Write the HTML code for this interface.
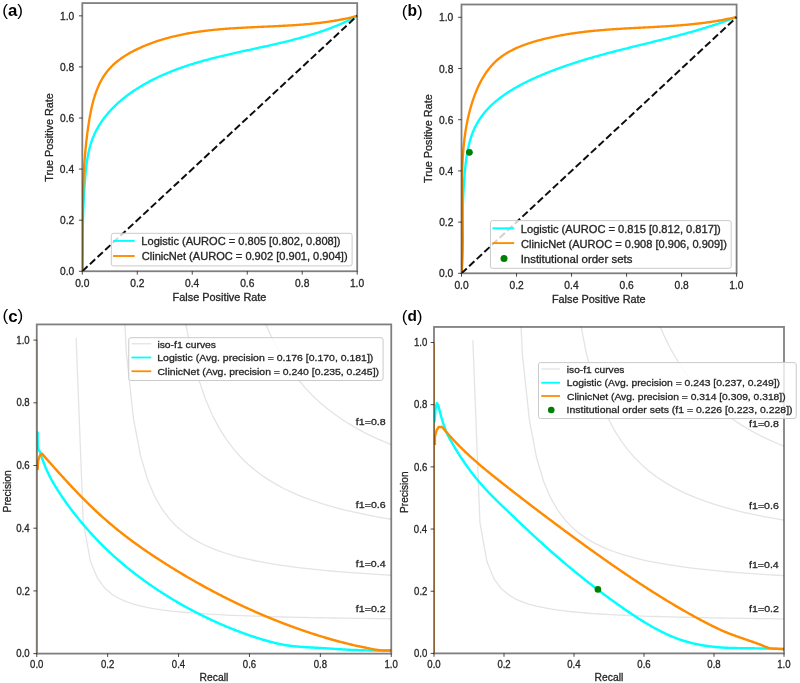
<!DOCTYPE html>
<html><head><meta charset="utf-8"><title>ROC and PR curves</title>
<style>html,body{margin:0;padding:0;background:#fff;width:800px;height:683px;overflow:hidden}
svg{display:block} text{font-family:"Liberation Sans",sans-serif}</style></head>
<body>
<svg width="800" height="683" viewBox="0 0 800 683" font-family="Liberation Sans, sans-serif"><defs><clipPath id="cA"><rect x="82.30" y="3.08" width="274.90" height="268.17"/></clipPath><clipPath id="cB"><rect x="461.50" y="4.50" width="275.10" height="268.80"/></clipPath><clipPath id="cC"><rect x="36.75" y="324.43" width="354.50" height="329.18"/></clipPath><clipPath id="cD"><rect x="434.00" y="326.95" width="350.00" height="326.44"/></clipPath><filter id="soft" x="0" y="0" width="1" height="1"><feGaussianBlur stdDeviation="0.35"/></filter></defs><rect width="800" height="683" fill="#fff"/><g filter="url(#soft)"><rect width="800" height="683" fill="#fff"/><path d="M76.11,337.78 L83.27,521.85 L90.43,561.29 L97.59,578.49 L104.76,588.11 L111.92,594.27 L119.08,598.54 L126.24,601.69 L133.41,604.09 L140.57,605.99 L147.73,607.54 L154.89,608.81 L162.05,609.88 L169.22,610.79 L176.38,611.58 L183.54,612.27 L190.70,612.87 L197.87,613.41 L205.03,613.88 L212.19,614.31 L219.35,614.70 L226.52,615.05 L233.68,615.37 L240.84,615.66 L248.00,615.93 L255.17,616.18 L262.33,616.40 L269.49,616.62 L276.65,616.81 L283.81,617.00 L290.98,617.17 L298.14,617.33 L305.30,617.48 L312.46,617.62 L319.63,617.76 L326.79,617.88 L333.95,618.00 L341.11,618.12 L348.28,618.22 L355.44,618.33 L362.60,618.42 L369.76,618.52 L376.93,618.60 L384.09,618.69 L391.25,618.77" fill="none" stroke="#e4e4e4" stroke-width="1.3" clip-path="url(#cC)"/>
<path d="M111.92,-450.56 L119.08,202.00 L126.24,351.81 L133.41,418.30 L140.57,455.85 L147.73,479.99 L154.89,496.80 L162.05,509.19 L169.22,518.70 L176.38,526.22 L183.54,532.32 L190.70,537.38 L197.87,541.62 L205.03,545.25 L212.19,548.38 L219.35,551.10 L226.52,553.50 L233.68,555.63 L240.84,557.52 L248.00,559.23 L255.17,560.76 L262.33,562.16 L269.49,563.43 L276.65,564.60 L283.81,565.67 L290.98,566.65 L298.14,567.56 L305.30,568.41 L312.46,569.20 L319.63,569.93 L326.79,570.61 L333.95,571.26 L341.11,571.86 L348.28,572.43 L355.44,572.96 L362.60,573.46 L369.76,573.94 L376.93,574.39 L384.09,574.82 L391.25,575.23" fill="none" stroke="#e4e4e4" stroke-width="1.3" clip-path="url(#cC)"/>
<path d="M147.73,-1600.66 L154.89,-288.63 L162.05,31.86 L169.22,176.58 L176.38,259.00 L183.54,312.23 L190.70,349.44 L197.87,376.92 L205.03,398.04 L212.19,414.78 L219.35,428.38 L226.52,439.64 L233.68,449.12 L240.84,457.22 L248.00,464.20 L255.17,470.30 L262.33,475.66 L269.49,480.41 L276.65,484.66 L283.81,488.47 L290.98,491.91 L298.14,495.04 L305.30,497.88 L312.46,500.49 L319.63,502.89 L326.79,505.10 L333.95,507.14 L341.11,509.04 L348.28,510.80 L355.44,512.44 L362.60,513.98 L369.76,515.42 L376.93,516.77 L384.09,518.04 L391.25,519.24" fill="none" stroke="#e4e4e4" stroke-width="1.3" clip-path="url(#cC)"/>
<path d="M183.54,-3033.89 L190.70,-934.80 L197.87,-392.34 L205.03,-143.34 L212.19,-0.37 L219.35,92.41 L226.52,157.49 L233.68,205.65 L240.84,242.74 L248.00,272.18 L255.17,296.11 L262.33,315.95 L269.49,332.67 L276.65,346.94 L283.81,359.28 L290.98,370.04 L298.14,379.51 L305.30,387.91 L312.46,395.42 L319.63,402.16 L326.79,408.25 L333.95,413.78 L341.11,418.82 L348.28,423.43 L355.44,427.67 L362.60,431.59 L369.76,435.21 L376.93,438.56 L384.09,441.69 L391.25,444.60" fill="none" stroke="#e4e4e4" stroke-width="1.3" clip-path="url(#cC)"/>
<path d="M472.86,340.20 L479.93,522.74 L487.00,561.86 L494.07,578.91 L501.14,588.46 L508.21,594.56 L515.29,598.80 L522.36,601.92 L529.43,604.30 L536.50,606.19 L543.57,607.72 L550.64,608.98 L557.71,610.04 L564.79,610.95 L571.86,611.73 L578.93,612.41 L586.00,613.01 L593.07,613.54 L600.14,614.01 L607.21,614.44 L614.29,614.82 L621.36,615.17 L628.43,615.48 L635.50,615.77 L642.57,616.04 L649.64,616.29 L656.71,616.51 L663.79,616.72 L670.86,616.92 L677.93,617.10 L685.00,617.27 L692.07,617.43 L699.14,617.58 L706.21,617.72 L713.29,617.86 L720.36,617.98 L727.43,618.10 L734.50,618.21 L741.57,618.32 L748.64,618.42 L755.71,618.51 L762.79,618.61 L769.86,618.69 L776.93,618.78 L784.00,618.86" fill="none" stroke="#e4e4e4" stroke-width="1.3" clip-path="url(#cD)"/>
<path d="M508.21,-441.60 L515.29,205.55 L522.36,354.11 L529.43,420.05 L536.50,457.29 L543.57,481.23 L550.64,497.90 L557.71,510.19 L564.79,519.61 L571.86,527.08 L578.93,533.13 L586.00,538.14 L593.07,542.35 L600.14,545.95 L607.21,549.05 L614.29,551.75 L621.36,554.13 L628.43,556.24 L635.50,558.12 L642.57,559.81 L649.64,561.33 L656.71,562.72 L663.79,563.98 L670.86,565.13 L677.93,566.19 L685.00,567.17 L692.07,568.08 L699.14,568.92 L706.21,569.70 L713.29,570.42 L720.36,571.10 L727.43,571.74 L734.50,572.34 L741.57,572.90 L748.64,573.43 L755.71,573.93 L762.79,574.40 L769.86,574.85 L776.93,575.27 L784.00,575.67" fill="none" stroke="#e4e4e4" stroke-width="1.3" clip-path="url(#cD)"/>
<path d="M543.57,-1582.17 L550.64,-281.02 L557.71,36.82 L564.79,180.33 L571.86,262.07 L578.93,314.86 L586.00,351.76 L593.07,379.01 L600.14,399.96 L607.21,416.56 L614.29,430.05 L621.36,441.22 L628.43,450.62 L635.50,458.64 L642.57,465.57 L649.64,471.62 L656.71,476.93 L663.79,481.65 L670.86,485.86 L677.93,489.64 L685.00,493.05 L692.07,496.15 L699.14,498.98 L706.21,501.56 L713.29,503.94 L720.36,506.13 L727.43,508.16 L734.50,510.04 L741.57,511.78 L748.64,513.42 L755.71,514.94 L762.79,516.37 L769.86,517.71 L776.93,518.97 L784.00,520.16" fill="none" stroke="#e4e4e4" stroke-width="1.3" clip-path="url(#cD)"/>
<path d="M578.93,-3003.50 L586.00,-921.83 L593.07,-383.86 L600.14,-136.93 L607.21,4.86 L614.29,96.87 L621.36,161.40 L628.43,209.16 L635.50,245.94 L642.57,275.14 L649.64,298.87 L656.71,318.55 L663.79,335.13 L670.86,349.29 L677.93,361.52 L685.00,372.19 L692.07,381.58 L699.14,389.92 L706.21,397.36 L713.29,404.04 L720.36,410.08 L727.43,415.56 L734.50,420.56 L741.57,425.14 L748.64,429.35 L755.71,433.23 L762.79,436.82 L769.86,440.15 L776.93,443.24 L784.00,446.13" fill="none" stroke="#e4e4e4" stroke-width="1.3" clip-path="url(#cD)"/>
<path d="M82.40,271.25 L82.40,270.15 L82.40,269.04 L82.41,267.94 L82.41,266.84 L82.41,265.75 L82.41,264.65 L82.42,263.55 L82.42,262.46 L82.42,261.37 L82.43,260.28 L82.43,259.19 L82.44,258.10 L82.44,257.01 L82.45,255.92 L82.45,254.84 L82.46,253.75 L82.46,252.67 L82.47,251.58 L82.48,250.50 L82.48,249.42 L82.49,248.34 L82.50,247.26 L82.51,246.18 L82.52,245.10 L82.53,244.02 L82.54,242.94 L82.55,241.87 L82.57,240.79 L82.58,239.71 L82.59,238.64 L82.61,237.56 L82.62,236.48 L82.64,235.41 L82.66,234.33 L82.68,233.26 L82.69,232.18 L82.71,231.11 L82.73,230.03 L82.76,228.96 L82.78,227.88 L82.80,226.81 L82.83,225.73 L82.85,224.66 L82.88,223.58 L82.90,222.50 L82.93,221.43 L82.96,220.35 L82.99,219.27 L83.02,218.20 L83.06,217.12 L83.09,216.04 L83.13,214.96 L83.16,213.88 L83.20,212.80 L83.24,211.72 L83.28,210.64 L83.32,209.56 L83.36,208.47 L83.41,207.39 L83.45,206.30 L83.50,205.22 L83.55,204.13 L83.60,203.04 L83.65,201.95 L83.70,200.86 L83.76,199.77 L83.81,198.68 L83.87,197.59 L83.93,196.49 L83.99,195.39 L84.05,194.30 L84.12,193.20 L84.18,192.10 L84.25,191.00 L84.32,189.89 L84.39,188.79 L84.46,187.68 L84.54,186.57 L84.61,185.46 L84.69,184.35 L84.77,183.24 L84.85,182.12 L84.94,181.00 L85.02,179.89 L85.11,178.76 L85.20,177.64 L85.29,176.52 L85.39,175.39 L85.48,174.27 L85.59,173.14 L85.69,172.01 L85.80,170.89 L85.92,169.76 L86.04,168.64 L86.16,167.51 L86.29,166.39 L86.43,165.26 L86.57,164.14 L86.72,163.02 L86.88,161.90 L87.04,160.79 L87.21,159.68 L87.39,158.57 L87.57,157.46 L87.77,156.36 L87.97,155.26 L88.18,154.16 L88.41,153.07 L88.64,151.99 L88.88,150.90 L89.13,149.83 L89.39,148.75 L89.67,147.69 L89.95,146.63 L90.25,145.57 L90.56,144.53 L90.88,143.48 L91.21,142.45 L91.56,141.42 L91.92,140.40 L92.29,139.39 L92.68,138.38 L93.07,137.39 L93.48,136.39 L93.91,135.41 L94.34,134.43 L94.79,133.46 L95.25,132.50 L95.72,131.55 L96.21,130.60 L96.70,129.66 L97.21,128.72 L97.73,127.80 L98.26,126.88 L98.80,125.97 L99.35,125.06 L99.91,124.16 L100.49,123.27 L101.07,122.38 L101.66,121.51 L102.27,120.64 L102.88,119.77 L103.51,118.91 L104.14,118.06 L104.78,117.22 L105.44,116.38 L106.10,115.55 L106.77,114.73 L107.45,113.91 L108.14,113.10 L108.84,112.30 L109.55,111.50 L110.27,110.71 L110.99,109.93 L111.72,109.15 L112.47,108.38 L113.21,107.62 L113.97,106.86 L114.74,106.11 L115.51,105.36 L116.29,104.62 L117.08,103.89 L117.87,103.17 L118.67,102.45 L119.48,101.74 L120.30,101.03 L121.12,100.33 L121.95,99.64 L122.78,98.95 L123.62,98.27 L124.47,97.59 L125.32,96.93 L126.18,96.26 L127.04,95.61 L127.91,94.96 L128.79,94.31 L129.67,93.68 L130.55,93.04 L131.45,92.42 L132.34,91.80 L133.24,91.19 L134.14,90.58 L135.05,89.98 L135.97,89.38 L136.88,88.79 L137.80,88.21 L138.73,87.63 L139.66,87.06 L140.59,86.49 L141.53,85.93 L142.47,85.38 L143.41,84.83 L144.35,84.29 L145.30,83.75 L146.25,83.22 L147.20,82.69 L148.16,82.17 L149.12,81.66 L150.08,81.15 L151.04,80.64 L152.01,80.15 L152.97,79.65 L153.94,79.17 L154.91,78.69 L155.89,78.21 L156.86,77.74 L157.84,77.27 L158.82,76.81 L159.80,76.35 L160.79,75.90 L161.78,75.46 L162.76,75.02 L163.75,74.58 L164.75,74.15 L165.74,73.72 L166.74,73.30 L167.74,72.88 L168.74,72.47 L169.74,72.06 L170.74,71.65 L171.75,71.25 L172.75,70.86 L173.76,70.47 L174.77,70.08 L175.79,69.70 L176.80,69.32 L177.82,68.94 L178.83,68.57 L179.85,68.20 L180.87,67.84 L181.90,67.48 L182.92,67.12 L183.95,66.77 L184.97,66.42 L186.00,66.08 L187.03,65.74 L188.06,65.40 L189.09,65.06 L190.13,64.73 L191.16,64.40 L192.20,64.08 L193.24,63.76 L194.28,63.44 L195.32,63.12 L196.36,62.81 L197.40,62.50 L198.45,62.19 L199.49,61.89 L200.54,61.59 L201.59,61.29 L202.64,61.00 L203.69,60.70 L204.74,60.41 L205.79,60.13 L206.84,59.84 L207.90,59.56 L208.95,59.28 L210.01,59.00 L211.07,58.72 L212.13,58.45 L213.18,58.18 L214.24,57.91 L215.30,57.64 L216.37,57.37 L217.43,57.11 L218.49,56.85 L219.55,56.59 L220.62,56.33 L221.68,56.07 L222.75,55.82 L223.82,55.56 L224.88,55.31 L225.95,55.06 L227.02,54.81 L228.09,54.56 L229.16,54.31 L230.23,54.07 L231.30,53.82 L232.37,53.58 L233.44,53.34 L234.51,53.10 L235.58,52.86 L236.65,52.62 L237.73,52.38 L238.80,52.14 L239.87,51.90 L240.94,51.67 L242.02,51.43 L243.09,51.20 L244.17,50.96 L245.24,50.73 L246.32,50.49 L247.39,50.26 L248.46,50.03 L249.54,49.79 L250.61,49.56 L251.69,49.33 L252.76,49.09 L253.84,48.86 L254.91,48.63 L255.99,48.39 L257.06,48.16 L258.14,47.93 L259.21,47.69 L260.29,47.46 L261.36,47.22 L262.44,46.99 L263.51,46.75 L264.58,46.52 L265.66,46.28 L266.73,46.04 L267.80,45.81 L268.87,45.57 L269.95,45.33 L271.02,45.09 L272.09,44.84 L273.16,44.60 L274.23,44.36 L275.30,44.11 L276.37,43.87 L277.44,43.62 L278.51,43.37 L279.57,43.12 L280.64,42.87 L281.71,42.62 L282.77,42.36 L283.84,42.11 L284.90,41.85 L285.97,41.59 L287.03,41.33 L288.09,41.07 L289.15,40.80 L290.22,40.53 L291.28,40.27 L292.33,39.99 L293.39,39.72 L294.45,39.45 L295.51,39.17 L296.56,38.89 L297.62,38.61 L298.67,38.32 L299.72,38.04 L300.77,37.75 L301.82,37.46 L302.87,37.16 L303.92,36.87 L304.97,36.57 L306.02,36.27 L307.06,35.96 L308.10,35.65 L309.15,35.34 L310.19,35.03 L311.23,34.71 L312.27,34.39 L313.30,34.07 L314.34,33.74 L315.37,33.41 L316.41,33.08 L317.44,32.75 L318.47,32.41 L319.50,32.06 L320.53,31.72 L321.55,31.37 L322.58,31.01 L323.60,30.66 L324.62,30.29 L325.64,29.93 L326.66,29.56 L327.68,29.19 L328.69,28.81 L329.70,28.43 L330.72,28.04 L331.73,27.66 L332.73,27.26 L333.74,26.86 L334.74,26.46 L335.75,26.06 L336.75,25.65 L337.75,25.23 L338.74,24.81 L339.74,24.39 L340.73,23.96 L341.72,23.52 L342.71,23.08 L343.70,22.64 L344.68,22.19 L345.67,21.74 L346.65,21.28 L347.63,20.82 L348.60,20.35 L349.58,19.88 L350.55,19.40 L351.52,18.91 L352.49,18.43 L353.46,17.93 L354.42,17.43 L355.38,16.92 L356.34,16.41 L357.30,15.90" fill="none" stroke="#00ffff" stroke-width="2.35" stroke-linejoin="round" clip-path="url(#cA)"/>
<path d="M82.40,271.25 L82.42,270.06 L82.43,268.87 L82.45,267.69 L82.46,266.50 L82.47,265.32 L82.49,264.13 L82.50,262.95 L82.51,261.77 L82.52,260.59 L82.53,259.41 L82.54,258.23 L82.54,257.05 L82.55,255.88 L82.56,254.70 L82.56,253.53 L82.57,252.35 L82.57,251.18 L82.58,250.01 L82.58,248.83 L82.59,247.66 L82.59,246.49 L82.59,245.32 L82.59,244.16 L82.60,242.99 L82.60,241.82 L82.60,240.65 L82.60,239.49 L82.61,238.32 L82.61,237.16 L82.61,235.99 L82.61,234.83 L82.61,233.67 L82.62,232.51 L82.62,231.35 L82.62,230.18 L82.62,229.02 L82.63,227.86 L82.63,226.70 L82.63,225.54 L82.64,224.39 L82.64,223.23 L82.65,222.07 L82.65,220.91 L82.66,219.75 L82.66,218.60 L82.67,217.44 L82.68,216.28 L82.69,215.13 L82.70,213.97 L82.71,212.82 L82.72,211.66 L82.73,210.51 L82.74,209.35 L82.76,208.20 L82.77,207.04 L82.79,205.89 L82.80,204.73 L82.82,203.58 L82.84,202.43 L82.86,201.27 L82.88,200.12 L82.90,198.96 L82.92,197.81 L82.95,196.66 L82.97,195.50 L83.00,194.35 L83.03,193.20 L83.06,192.04 L83.09,190.89 L83.13,189.73 L83.16,188.58 L83.20,187.42 L83.23,186.27 L83.27,185.12 L83.32,183.96 L83.36,182.81 L83.40,181.65 L83.45,180.49 L83.50,179.34 L83.55,178.18 L83.60,177.03 L83.66,175.87 L83.71,174.71 L83.77,173.55 L83.83,172.40 L83.89,171.24 L83.96,170.08 L84.03,168.92 L84.10,167.76 L84.17,166.60 L84.24,165.44 L84.32,164.28 L84.40,163.12 L84.48,161.96 L84.56,160.79 L84.65,159.63 L84.73,158.47 L84.83,157.30 L84.92,156.14 L85.02,154.97 L85.12,153.81 L85.22,152.64 L85.32,151.47 L85.43,150.30 L85.54,149.13 L85.65,147.96 L85.77,146.79 L85.89,145.62 L86.01,144.45 L86.14,143.28 L86.26,142.10 L86.39,140.93 L86.53,139.75 L86.67,138.58 L86.81,137.40 L86.95,136.22 L87.10,135.04 L87.25,133.86 L87.40,132.68 L87.56,131.50 L87.72,130.31 L87.89,129.13 L88.06,127.94 L88.23,126.76 L88.40,125.57 L88.58,124.38 L88.76,123.19 L88.95,122.00 L89.14,120.81 L89.34,119.62 L89.54,118.43 L89.75,117.24 L89.96,116.05 L90.17,114.86 L90.40,113.68 L90.63,112.49 L90.86,111.31 L91.11,110.13 L91.36,108.95 L91.61,107.78 L91.88,106.61 L92.15,105.44 L92.43,104.28 L92.73,103.12 L93.02,101.96 L93.33,100.81 L93.65,99.67 L93.98,98.53 L94.32,97.40 L94.67,96.27 L95.02,95.15 L95.39,94.03 L95.77,92.93 L96.17,91.83 L96.57,90.73 L96.99,89.65 L97.42,88.57 L97.86,87.51 L98.31,86.45 L98.78,85.40 L99.26,84.36 L99.75,83.33 L100.26,82.31 L100.78,81.30 L101.32,80.30 L101.87,79.31 L102.44,78.34 L103.02,77.37 L103.62,76.42 L104.24,75.48 L104.87,74.55 L105.52,73.64 L106.18,72.74 L106.86,71.85 L107.56,70.97 L108.28,70.11 L109.01,69.26 L109.76,68.43 L110.52,67.61 L111.30,66.80 L112.09,66.00 L112.90,65.22 L113.73,64.45 L114.56,63.69 L115.41,62.95 L116.28,62.21 L117.16,61.49 L118.04,60.78 L118.95,60.08 L119.86,59.40 L120.78,58.72 L121.72,58.06 L122.66,57.40 L123.62,56.76 L124.58,56.13 L125.56,55.51 L126.54,54.90 L127.53,54.30 L128.53,53.71 L129.54,53.13 L130.56,52.56 L131.58,52.00 L132.61,51.45 L133.65,50.90 L134.69,50.37 L135.74,49.85 L136.79,49.33 L137.85,48.83 L138.91,48.33 L139.98,47.84 L141.05,47.36 L142.12,46.89 L143.20,46.43 L144.28,45.97 L145.36,45.52 L146.44,45.08 L147.53,44.65 L148.62,44.22 L149.70,43.81 L150.80,43.40 L151.89,42.99 L152.98,42.60 L154.08,42.21 L155.18,41.83 L156.28,41.45 L157.38,41.08 L158.48,40.72 L159.59,40.37 L160.69,40.02 L161.80,39.68 L162.91,39.34 L164.02,39.01 L165.14,38.69 L166.25,38.38 L167.37,38.07 L168.48,37.76 L169.60,37.47 L170.72,37.18 L171.84,36.89 L172.97,36.61 L174.09,36.34 L175.22,36.07 L176.35,35.81 L177.48,35.55 L178.61,35.30 L179.74,35.05 L180.87,34.81 L182.01,34.58 L183.14,34.35 L184.28,34.12 L185.42,33.90 L186.55,33.69 L187.70,33.48 L188.84,33.27 L189.98,33.07 L191.12,32.87 L192.27,32.68 L193.41,32.50 L194.56,32.31 L195.71,32.14 L196.86,31.96 L198.01,31.79 L199.16,31.63 L200.31,31.47 L201.47,31.31 L202.62,31.15 L203.78,31.00 L204.93,30.86 L206.09,30.72 L207.25,30.58 L208.41,30.44 L209.57,30.31 L210.73,30.18 L211.89,30.06 L213.05,29.94 L214.22,29.82 L215.38,29.70 L216.54,29.59 L217.71,29.48 L218.87,29.38 L220.04,29.27 L221.21,29.17 L222.38,29.07 L223.54,28.98 L224.71,28.88 L225.88,28.79 L227.05,28.71 L228.22,28.62 L229.40,28.54 L230.57,28.45 L231.74,28.37 L232.91,28.30 L234.09,28.22 L235.26,28.15 L236.43,28.08 L237.61,28.00 L238.78,27.94 L239.96,27.87 L241.14,27.80 L242.31,27.74 L243.49,27.68 L244.66,27.61 L245.84,27.55 L247.02,27.49 L248.20,27.43 L249.37,27.38 L250.55,27.32 L251.73,27.26 L252.91,27.21 L254.09,27.15 L255.26,27.10 L256.44,27.05 L257.62,26.99 L258.80,26.94 L259.98,26.89 L261.16,26.84 L262.34,26.79 L263.52,26.73 L264.70,26.68 L265.87,26.63 L267.05,26.58 L268.23,26.52 L269.41,26.47 L270.59,26.42 L271.77,26.36 L272.94,26.31 L274.12,26.26 L275.30,26.20 L276.48,26.14 L277.66,26.09 L278.83,26.03 L280.01,25.97 L281.19,25.91 L282.36,25.85 L283.54,25.79 L284.71,25.72 L285.89,25.66 L287.06,25.59 L288.24,25.52 L289.41,25.45 L290.59,25.38 L291.76,25.31 L292.93,25.23 L294.11,25.16 L295.28,25.08 L296.45,25.00 L297.62,24.92 L298.79,24.83 L299.96,24.74 L301.13,24.66 L302.30,24.56 L303.46,24.47 L304.63,24.37 L305.80,24.27 L306.96,24.17 L308.13,24.07 L309.29,23.96 L310.46,23.85 L311.62,23.73 L312.78,23.62 L313.94,23.50 L315.10,23.37 L316.26,23.25 L317.42,23.12 L318.58,22.99 L319.74,22.85 L320.89,22.71 L322.05,22.57 L323.20,22.42 L324.35,22.27 L325.51,22.11 L326.66,21.95 L327.81,21.79 L328.96,21.62 L330.11,21.45 L331.25,21.27 L332.40,21.09 L333.54,20.91 L334.69,20.72 L335.83,20.53 L336.97,20.33 L338.11,20.13 L339.25,19.92 L340.39,19.71 L341.52,19.49 L342.66,19.27 L343.79,19.04 L344.93,18.81 L346.06,18.57 L347.19,18.33 L348.32,18.08 L349.44,17.82 L350.57,17.56 L351.69,17.30 L352.82,17.03 L353.94,16.75 L355.06,16.47 L356.18,16.18 L357.29,15.89" fill="none" stroke="#ff8c00" stroke-width="2.35" stroke-linejoin="round" clip-path="url(#cA)"/>
<line x1="82.30" y1="271.25" x2="357.20" y2="15.85" stroke="#111" stroke-width="2" stroke-dasharray="7.2 3.2" clip-path="url(#cA)"/>
<path d="M461.60,273.30 L461.62,272.18 L461.64,271.07 L461.66,269.96 L461.67,268.85 L461.69,267.75 L461.71,266.64 L461.73,265.54 L461.74,264.43 L461.76,263.33 L461.78,262.23 L461.79,261.13 L461.81,260.04 L461.82,258.94 L461.84,257.84 L461.85,256.75 L461.86,255.66 L461.88,254.56 L461.89,253.47 L461.91,252.38 L461.92,251.29 L461.93,250.20 L461.95,249.12 L461.96,248.03 L461.97,246.94 L461.99,245.86 L462.00,244.77 L462.02,243.69 L462.03,242.60 L462.05,241.52 L462.06,240.44 L462.08,239.35 L462.09,238.27 L462.11,237.19 L462.12,236.11 L462.14,235.02 L462.16,233.94 L462.18,232.86 L462.19,231.78 L462.21,230.70 L462.23,229.62 L462.25,228.54 L462.27,227.45 L462.29,226.37 L462.31,225.29 L462.34,224.21 L462.36,223.12 L462.38,222.04 L462.41,220.96 L462.44,219.87 L462.46,218.79 L462.49,217.70 L462.52,216.62 L462.55,215.53 L462.58,214.44 L462.61,213.36 L462.64,212.27 L462.68,211.18 L462.71,210.09 L462.75,209.00 L462.79,207.91 L462.82,206.81 L462.86,205.72 L462.91,204.62 L462.95,203.53 L462.99,202.43 L463.04,201.33 L463.08,200.23 L463.13,199.13 L463.18,198.03 L463.23,196.92 L463.29,195.82 L463.34,194.71 L463.40,193.60 L463.45,192.49 L463.51,191.38 L463.57,190.27 L463.64,189.15 L463.70,188.04 L463.77,186.92 L463.83,185.80 L463.90,184.68 L463.98,183.55 L464.05,182.42 L464.13,181.30 L464.20,180.17 L464.28,179.03 L464.37,177.90 L464.45,176.76 L464.54,175.62 L464.63,174.49 L464.72,173.35 L464.82,172.20 L464.92,171.06 L465.02,169.92 L465.13,168.78 L465.24,167.64 L465.36,166.50 L465.48,165.36 L465.61,164.22 L465.75,163.08 L465.88,161.95 L466.03,160.81 L466.18,159.68 L466.34,158.55 L466.50,157.42 L466.67,156.30 L466.85,155.17 L467.03,154.06 L467.23,152.94 L467.43,151.83 L467.64,150.72 L467.85,149.62 L468.08,148.52 L468.31,147.42 L468.56,146.33 L468.81,145.25 L469.07,144.17 L469.34,143.09 L469.63,142.02 L469.92,140.96 L470.22,139.91 L470.53,138.86 L470.86,137.81 L471.19,136.78 L471.54,135.75 L471.90,134.73 L472.27,133.72 L472.65,132.71 L473.05,131.71 L473.46,130.73 L473.88,129.75 L474.31,128.78 L474.76,127.81 L475.22,126.86 L475.70,125.92 L476.19,124.99 L476.69,124.06 L477.20,123.15 L477.73,122.24 L478.27,121.35 L478.82,120.46 L479.39,119.58 L479.96,118.71 L480.55,117.85 L481.15,117.00 L481.77,116.15 L482.39,115.32 L483.03,114.49 L483.68,113.67 L484.33,112.86 L485.00,112.06 L485.68,111.27 L486.37,110.48 L487.08,109.70 L487.79,108.93 L488.51,108.17 L489.24,107.42 L489.98,106.67 L490.73,105.93 L491.49,105.20 L492.26,104.48 L493.04,103.76 L493.83,103.05 L494.62,102.35 L495.43,101.66 L496.24,100.97 L497.06,100.29 L497.89,99.62 L498.73,98.95 L499.58,98.29 L500.43,97.64 L501.29,96.99 L502.16,96.35 L503.03,95.72 L503.92,95.09 L504.80,94.47 L505.70,93.86 L506.60,93.25 L507.51,92.65 L508.42,92.05 L509.34,91.46 L510.27,90.88 L511.20,90.30 L512.14,89.73 L513.08,89.16 L514.03,88.60 L514.98,88.05 L515.94,87.50 L516.90,86.95 L517.87,86.41 L518.84,85.88 L519.82,85.35 L520.80,84.83 L521.78,84.31 L522.77,83.79 L523.76,83.29 L524.75,82.78 L525.75,82.28 L526.75,81.79 L527.75,81.30 L528.76,80.81 L529.77,80.33 L530.78,79.86 L531.79,79.38 L532.80,78.91 L533.82,78.45 L534.84,77.99 L535.86,77.53 L536.88,77.08 L537.90,76.63 L538.93,76.19 L539.95,75.75 L540.98,75.31 L542.00,74.88 L543.03,74.45 L544.06,74.02 L545.09,73.60 L546.12,73.18 L547.15,72.76 L548.18,72.35 L549.21,71.94 L550.24,71.53 L551.27,71.13 L552.31,70.73 L553.34,70.33 L554.37,69.94 L555.41,69.55 L556.45,69.16 L557.48,68.78 L558.52,68.40 L559.56,68.02 L560.60,67.64 L561.64,67.27 L562.68,66.90 L563.72,66.53 L564.76,66.17 L565.80,65.81 L566.84,65.45 L567.88,65.09 L568.93,64.74 L569.97,64.39 L571.02,64.04 L572.06,63.70 L573.11,63.35 L574.15,63.01 L575.20,62.67 L576.25,62.34 L577.29,62.00 L578.34,61.67 L579.39,61.34 L580.44,61.02 L581.49,60.69 L582.54,60.37 L583.59,60.05 L584.64,59.73 L585.69,59.41 L586.74,59.10 L587.80,58.79 L588.85,58.48 L589.90,58.17 L590.96,57.86 L592.01,57.56 L593.06,57.25 L594.12,56.95 L595.17,56.65 L596.23,56.36 L597.28,56.06 L598.34,55.76 L599.40,55.47 L600.45,55.18 L601.51,54.89 L602.57,54.60 L603.63,54.31 L604.68,54.03 L605.74,53.74 L606.80,53.46 L607.86,53.18 L608.92,52.90 L609.98,52.62 L611.04,52.34 L612.10,52.06 L613.16,51.79 L614.22,51.51 L615.28,51.24 L616.34,50.97 L617.40,50.69 L618.46,50.42 L619.52,50.15 L620.58,49.88 L621.64,49.61 L622.71,49.35 L623.77,49.08 L624.83,48.81 L625.89,48.55 L626.95,48.28 L628.02,48.02 L629.08,47.75 L630.14,47.49 L631.20,47.23 L632.27,46.96 L633.33,46.70 L634.39,46.44 L635.46,46.18 L636.52,45.92 L637.58,45.66 L638.64,45.40 L639.71,45.13 L640.77,44.87 L641.83,44.61 L642.90,44.35 L643.96,44.09 L645.02,43.83 L646.09,43.57 L647.15,43.31 L648.21,43.05 L649.28,42.79 L650.34,42.53 L651.40,42.27 L652.47,42.01 L653.53,41.75 L654.59,41.48 L655.65,41.22 L656.72,40.96 L657.78,40.69 L658.84,40.43 L659.90,40.17 L660.97,39.90 L662.03,39.64 L663.09,39.37 L664.15,39.10 L665.21,38.84 L666.28,38.57 L667.34,38.30 L668.40,38.03 L669.46,37.76 L670.52,37.49 L671.58,37.21 L672.64,36.94 L673.70,36.67 L674.76,36.39 L675.82,36.12 L676.88,35.84 L677.94,35.56 L679.00,35.28 L680.06,35.00 L681.11,34.72 L682.17,34.43 L683.23,34.15 L684.29,33.86 L685.34,33.57 L686.40,33.28 L687.46,32.99 L688.51,32.70 L689.57,32.41 L690.62,32.11 L691.68,31.81 L692.73,31.52 L693.79,31.22 L694.84,30.91 L695.90,30.61 L696.95,30.30 L698.00,30.00 L699.06,29.69 L700.11,29.38 L701.16,29.06 L702.21,28.75 L703.26,28.43 L704.31,28.11 L705.36,27.79 L706.41,27.47 L707.46,27.14 L708.51,26.81 L709.55,26.48 L710.60,26.15 L711.65,25.82 L712.69,25.48 L713.74,25.14 L714.79,24.80 L715.83,24.45 L716.87,24.11 L717.92,23.76 L718.96,23.41 L720.00,23.05 L721.05,22.69 L722.09,22.33 L723.13,21.97 L724.17,21.61 L725.21,21.24 L726.25,20.87 L727.28,20.49 L728.32,20.12 L729.36,19.74 L730.40,19.35 L731.43,18.97 L732.47,18.58 L733.50,18.19 L734.53,17.79 L735.57,17.39 L736.60,16.99" fill="none" stroke="#00ffff" stroke-width="2.35" stroke-linejoin="round" clip-path="url(#cB)"/>
<path d="M461.59,273.30 L461.69,272.15 L461.78,271.01 L461.86,269.86 L461.94,268.71 L462.02,267.56 L462.09,266.41 L462.16,265.26 L462.22,264.11 L462.28,262.95 L462.34,261.80 L462.39,260.64 L462.44,259.49 L462.48,258.33 L462.52,257.17 L462.56,256.01 L462.60,254.85 L462.63,253.69 L462.66,252.53 L462.69,251.36 L462.71,250.20 L462.73,249.03 L462.75,247.87 L462.76,246.70 L462.78,245.53 L462.79,244.37 L462.79,243.20 L462.80,242.03 L462.80,240.86 L462.80,239.69 L462.80,238.52 L462.80,237.34 L462.80,236.17 L462.79,235.00 L462.78,233.82 L462.77,232.65 L462.76,231.47 L462.75,230.30 L462.74,229.12 L462.72,227.95 L462.70,226.77 L462.69,225.59 L462.67,224.41 L462.65,223.23 L462.63,222.05 L462.61,220.88 L462.59,219.70 L462.57,218.51 L462.54,217.33 L462.52,216.15 L462.50,214.97 L462.48,213.79 L462.45,212.61 L462.43,211.43 L462.41,210.24 L462.38,209.06 L462.36,207.88 L462.34,206.69 L462.31,205.51 L462.29,204.33 L462.27,203.14 L462.25,201.96 L462.23,200.77 L462.21,199.59 L462.20,198.41 L462.18,197.22 L462.16,196.04 L462.15,194.85 L462.14,193.67 L462.12,192.48 L462.11,191.30 L462.10,190.11 L462.10,188.93 L462.09,187.74 L462.09,186.56 L462.09,185.37 L462.09,184.19 L462.09,183.01 L462.09,181.82 L462.10,180.64 L462.11,179.45 L462.12,178.27 L462.13,177.09 L462.15,175.90 L462.17,174.72 L462.19,173.54 L462.21,172.36 L462.24,171.17 L462.27,169.99 L462.30,168.81 L462.34,167.63 L462.38,166.45 L462.42,165.27 L462.47,164.09 L462.52,162.91 L462.58,161.73 L462.63,160.55 L462.69,159.37 L462.76,158.19 L462.83,157.02 L462.90,155.84 L462.98,154.66 L463.06,153.49 L463.15,152.31 L463.24,151.14 L463.33,149.96 L463.43,148.79 L463.53,147.61 L463.64,146.44 L463.76,145.27 L463.88,144.10 L464.00,142.93 L464.13,141.76 L464.26,140.59 L464.40,139.42 L464.54,138.25 L464.69,137.09 L464.85,135.92 L465.01,134.76 L465.18,133.59 L465.35,132.43 L465.53,131.27 L465.71,130.10 L465.90,128.94 L466.10,127.78 L466.30,126.62 L466.51,125.47 L466.72,124.31 L466.95,123.15 L467.17,122.00 L467.41,120.84 L467.65,119.69 L467.90,118.54 L468.15,117.39 L468.42,116.24 L468.69,115.09 L468.96,113.94 L469.25,112.79 L469.54,111.65 L469.84,110.50 L470.14,109.36 L470.45,108.22 L470.78,107.08 L471.11,105.94 L471.44,104.80 L471.79,103.66 L472.14,102.53 L472.50,101.40 L472.87,100.27 L473.25,99.15 L473.64,98.03 L474.04,96.91 L474.44,95.80 L474.86,94.69 L475.28,93.58 L475.71,92.48 L476.16,91.39 L476.61,90.30 L477.07,89.22 L477.54,88.15 L478.03,87.08 L478.52,86.01 L479.02,84.96 L479.53,83.91 L480.06,82.87 L480.59,81.84 L481.14,80.81 L481.70,79.80 L482.26,78.79 L482.84,77.79 L483.43,76.81 L484.04,75.83 L484.65,74.86 L485.28,73.90 L485.91,72.96 L486.56,72.02 L487.23,71.09 L487.90,70.18 L488.59,69.28 L489.29,68.39 L490.00,67.51 L490.73,66.65 L491.46,65.80 L492.22,64.96 L492.98,64.14 L493.76,63.33 L494.55,62.53 L495.36,61.75 L496.18,60.98 L497.01,60.23 L497.86,59.49 L498.72,58.77 L499.59,58.07 L500.48,57.38 L501.38,56.70 L502.30,56.04 L503.23,55.39 L504.17,54.76 L505.12,54.14 L506.08,53.53 L507.05,52.94 L508.03,52.36 L509.03,51.80 L510.03,51.24 L511.05,50.70 L512.07,50.17 L513.10,49.65 L514.14,49.14 L515.19,48.65 L516.25,48.16 L517.31,47.69 L518.39,47.23 L519.46,46.77 L520.55,46.33 L521.64,45.90 L522.74,45.47 L523.84,45.06 L524.95,44.66 L526.07,44.26 L527.19,43.87 L528.31,43.49 L529.44,43.12 L530.57,42.76 L531.70,42.40 L532.84,42.05 L533.98,41.71 L535.12,41.38 L536.26,41.05 L537.41,40.73 L538.56,40.41 L539.70,40.10 L540.85,39.80 L542.00,39.50 L543.15,39.21 L544.30,38.92 L545.45,38.64 L546.60,38.36 L547.76,38.09 L548.91,37.82 L550.06,37.56 L551.22,37.31 L552.37,37.05 L553.53,36.81 L554.68,36.57 L555.84,36.33 L557.00,36.10 L558.15,35.87 L559.31,35.65 L560.47,35.43 L561.63,35.22 L562.79,35.01 L563.95,34.80 L565.11,34.60 L566.27,34.40 L567.43,34.21 L568.59,34.02 L569.75,33.84 L570.91,33.66 L572.08,33.48 L573.24,33.31 L574.40,33.14 L575.57,32.98 L576.73,32.82 L577.90,32.66 L579.06,32.50 L580.23,32.35 L581.39,32.21 L582.56,32.06 L583.73,31.92 L584.89,31.78 L586.06,31.65 L587.23,31.52 L588.40,31.39 L589.57,31.26 L590.73,31.14 L591.90,31.02 L593.07,30.90 L594.24,30.79 L595.41,30.68 L596.58,30.57 L597.75,30.46 L598.92,30.35 L600.09,30.25 L601.26,30.15 L602.44,30.05 L603.61,29.96 L604.78,29.87 L605.95,29.77 L607.12,29.69 L608.29,29.60 L609.47,29.51 L610.64,29.43 L611.81,29.35 L612.99,29.27 L614.16,29.19 L615.33,29.11 L616.50,29.03 L617.68,28.96 L618.85,28.89 L620.03,28.81 L621.20,28.74 L622.37,28.67 L623.55,28.60 L624.72,28.54 L625.90,28.47 L627.07,28.40 L628.24,28.34 L629.42,28.28 L630.59,28.21 L631.77,28.15 L632.94,28.09 L634.12,28.03 L635.29,27.96 L636.46,27.90 L637.64,27.84 L638.81,27.78 L639.99,27.72 L641.16,27.66 L642.34,27.60 L643.51,27.54 L644.68,27.48 L645.86,27.42 L647.03,27.36 L648.21,27.30 L649.38,27.24 L650.55,27.18 L651.73,27.11 L652.90,27.05 L654.07,26.99 L655.25,26.92 L656.42,26.86 L657.59,26.79 L658.77,26.73 L659.94,26.66 L661.11,26.59 L662.28,26.52 L663.46,26.45 L664.63,26.38 L665.80,26.31 L666.97,26.24 L668.14,26.16 L669.31,26.08 L670.49,26.01 L671.66,25.93 L672.83,25.84 L674.00,25.76 L675.17,25.68 L676.34,25.59 L677.51,25.50 L678.67,25.41 L679.84,25.32 L681.01,25.22 L682.18,25.13 L683.35,25.03 L684.52,24.93 L685.68,24.82 L686.85,24.72 L688.02,24.61 L689.18,24.50 L690.35,24.38 L691.51,24.27 L692.68,24.15 L693.84,24.03 L695.01,23.90 L696.17,23.78 L697.34,23.65 L698.50,23.51 L699.66,23.38 L700.82,23.24 L701.99,23.09 L703.15,22.95 L704.31,22.80 L705.47,22.64 L706.63,22.49 L707.79,22.33 L708.95,22.17 L710.11,22.00 L711.26,21.83 L712.42,21.65 L713.58,21.47 L714.73,21.29 L715.89,21.10 L717.05,20.91 L718.20,20.72 L719.36,20.52 L720.51,20.32 L721.66,20.11 L722.81,19.90 L723.97,19.68 L725.12,19.46 L726.27,19.24 L727.42,19.01 L728.57,18.77 L729.72,18.53 L730.87,18.29 L732.01,18.04 L733.16,17.78 L734.31,17.52 L735.45,17.26 L736.60,16.99" fill="none" stroke="#ff8c00" stroke-width="2.35" stroke-linejoin="round" clip-path="url(#cB)"/>
<line x1="461.50" y1="273.30" x2="736.60" y2="17.30" stroke="#111" stroke-width="2" stroke-dasharray="7.2 3.2" clip-path="url(#cB)"/>
<line x1="36.85" y1="340.10" x2="36.85" y2="653.60" stroke="#ff8c00" stroke-opacity="0.6" stroke-width="1.8" clip-path="url(#cC)"/>
<path d="M37.60,431.60 L37.60,440.00 L37.90,447.50 L38.80,450.20 L40.00,452.00 L41.30,455.97 L42.18,458.56 L43.05,461.02 L43.93,463.36 L44.81,465.60 L45.69,467.72 L46.56,469.76 L47.44,471.70 L48.32,473.56 L49.19,475.34 L50.07,477.06 L50.95,478.71 L51.82,480.31 L52.70,481.86 L53.58,483.37 L54.46,484.85 L55.33,486.30 L56.21,487.74 L57.09,489.15 L57.96,490.54 L58.84,491.91 L59.72,493.26 L60.60,494.60 L61.47,495.91 L62.35,497.21 L63.23,498.50 L64.10,499.77 L64.98,501.02 L65.86,502.26 L66.73,503.48 L67.61,504.69 L68.49,505.89 L69.37,507.07 L70.24,508.25 L71.12,509.41 L72.00,510.56 L72.87,511.70 L73.75,512.83 L74.63,513.95 L75.51,515.06 L76.38,516.16 L77.26,517.26 L78.14,518.34 L79.01,519.42 L79.89,520.49 L80.77,521.55 L81.65,522.60 L82.52,523.65 L83.40,524.68 L84.28,525.71 L85.15,526.73 L86.03,527.74 L86.91,528.75 L87.78,529.74 L88.66,530.73 L89.54,531.71 L90.42,532.69 L91.29,533.65 L92.17,534.61 L93.05,535.56 L93.92,536.51 L94.80,537.45 L95.68,538.37 L96.56,539.30 L97.43,540.21 L98.31,541.12 L99.19,542.02 L100.06,542.92 L100.94,543.80 L101.82,544.69 L102.69,545.56 L103.57,546.43 L104.45,547.29 L105.33,548.14 L106.20,548.99 L107.08,549.84 L107.96,550.67 L108.83,551.50 L109.71,552.32 L110.59,553.14 L111.47,553.95 L112.34,554.76 L113.22,555.56 L114.10,556.35 L114.97,557.14 L115.85,557.92 L116.73,558.70 L117.60,559.47 L118.48,560.24 L119.36,561.00 L120.24,561.76 L121.11,562.51 L121.99,563.25 L122.87,563.99 L123.74,564.73 L124.62,565.46 L125.50,566.18 L126.38,566.90 L127.25,567.62 L128.13,568.33 L129.01,569.03 L129.88,569.73 L130.76,570.43 L131.64,571.12 L132.52,571.81 L133.39,572.50 L134.27,573.18 L135.15,573.85 L136.02,574.52 L136.90,575.19 L137.78,575.85 L138.65,576.51 L139.53,577.17 L140.41,577.82 L141.29,578.47 L142.16,579.11 L143.04,579.75 L143.92,580.39 L144.79,581.02 L145.67,581.65 L146.55,582.28 L147.43,582.90 L148.30,583.52 L149.18,584.14 L150.06,584.75 L150.93,585.36 L151.81,585.96 L152.69,586.57 L153.56,587.16 L154.44,587.76 L155.32,588.35 L156.20,588.94 L157.07,589.52 L157.95,590.11 L158.83,590.68 L159.70,591.26 L160.58,591.83 L161.46,592.40 L162.34,592.96 L163.21,593.53 L164.09,594.08 L164.97,594.64 L165.84,595.19 L166.72,595.74 L167.60,596.29 L168.47,596.83 L169.35,597.37 L170.23,597.91 L171.11,598.44 L171.98,598.97 L172.86,599.50 L173.74,600.02 L174.61,600.54 L175.49,601.06 L176.37,601.58 L177.25,602.09 L178.12,602.60 L179.00,603.10 L179.88,603.61 L180.75,604.11 L181.63,604.61 L182.51,605.10 L183.38,605.59 L184.26,606.08 L185.14,606.57 L186.02,607.05 L186.89,607.53 L187.77,608.01 L188.65,608.48 L189.52,608.96 L190.40,609.43 L191.28,609.89 L192.16,610.36 L193.03,610.82 L193.91,611.28 L194.79,611.74 L195.66,612.19 L196.54,612.64 L197.42,613.09 L198.30,613.54 L199.17,613.98 L200.05,614.42 L200.93,614.86 L201.80,615.30 L202.68,615.73 L203.56,616.16 L204.43,616.59 L205.31,617.02 L206.19,617.44 L207.07,617.86 L207.94,618.28 L208.82,618.70 L209.70,619.11 L210.57,619.52 L211.45,619.93 L212.33,620.34 L213.21,620.75 L214.08,621.15 L214.96,621.55 L215.84,621.95 L216.71,622.34 L217.59,622.73 L218.47,623.13 L219.34,623.51 L220.22,623.90 L221.10,624.28 L221.98,624.66 L222.85,625.04 L223.73,625.42 L224.61,625.79 L225.48,626.16 L226.36,626.53 L227.24,626.90 L228.12,627.26 L228.99,627.62 L229.87,627.98 L230.75,628.34 L231.62,628.69 L232.50,629.05 L233.38,629.39 L234.25,629.74 L235.13,630.09 L236.01,630.43 L236.89,630.77 L237.76,631.10 L238.64,631.44 L239.52,631.77 L240.39,632.10 L241.27,632.42 L242.15,632.75 L243.03,633.07 L243.90,633.39 L244.78,633.70 L245.66,634.02 L246.53,634.33 L247.41,634.63 L248.29,634.94 L249.17,635.24 L250.04,635.54 L250.92,635.84 L251.80,636.14 L252.67,636.43 L253.55,636.72 L254.43,637.01 L255.30,637.29 L256.18,637.57 L257.06,637.85 L257.94,638.13 L258.81,638.40 L259.69,638.68 L260.57,638.94 L261.44,639.21 L262.32,639.47 L263.20,639.73 L264.08,639.99 L264.95,640.25 L265.83,640.50 L266.71,640.75 L267.58,640.99 L268.46,641.24 L269.34,641.48 L270.21,641.71 L271.09,641.94 L271.97,642.17 L272.85,642.39 L273.72,642.61 L274.60,642.83 L275.48,643.04 L276.35,643.25 L277.23,643.45 L278.11,643.64 L278.99,643.84 L279.86,644.02 L280.74,644.20 L281.62,644.38 L282.49,644.55 L283.37,644.71 L284.25,644.87 L285.12,645.03 L286.00,645.17 L286.88,645.31 L287.76,645.45 L288.63,645.58 L289.51,645.70 L290.39,645.81 L291.26,645.93 L292.14,646.03 L293.02,646.13 L293.90,646.23 L294.77,646.32 L295.65,646.41 L296.53,646.49 L297.40,646.57 L298.28,646.65 L299.16,646.72 L300.03,646.79 L300.91,646.85 L301.79,646.91 L302.67,646.98 L303.54,647.03 L304.42,647.09 L305.30,647.14 L306.17,647.19 L307.05,647.25 L307.93,647.29 L308.81,647.34 L309.68,647.39 L310.56,647.44 L311.44,647.48 L312.31,647.53 L313.19,647.58 L314.07,647.62 L314.95,647.67 L315.82,647.72 L316.70,647.76 L317.58,647.81 L318.45,647.86 L319.33,647.91 L320.21,647.96 L321.08,648.01 L321.96,648.06 L322.84,648.11 L323.72,648.17 L324.59,648.22 L325.47,648.28 L326.35,648.33 L327.22,648.39 L328.10,648.45 L328.98,648.51 L329.86,648.57 L330.73,648.63 L331.61,648.69 L332.49,648.76 L333.36,648.82 L334.24,648.88 L335.12,648.93 L335.99,648.99 L336.87,649.05 L337.75,649.11 L338.63,649.16 L339.50,649.22 L340.38,649.27 L341.26,649.33 L342.13,649.38 L343.01,649.43 L343.89,649.48 L344.77,649.54 L345.64,649.58 L346.52,649.63 L347.40,649.68 L348.27,649.72 L349.15,649.77 L350.03,649.81 L350.90,649.85 L351.78,649.88 L352.66,649.92 L353.54,649.95 L354.41,649.98 L355.29,650.01 L356.17,650.04 L357.04,650.07 L357.92,650.10 L358.80,650.13 L359.68,650.16 L360.55,650.19 L361.43,650.22 L362.31,650.25 L363.18,650.28 L364.06,650.31 L364.94,650.33 L365.82,650.36 L366.69,650.38 L367.57,650.40 L368.45,650.42 L369.32,650.44 L370.20,650.46 L371.08,650.47 L371.95,650.48 L372.83,650.49 L373.71,650.50 L374.59,650.50 L375.46,650.50 L376.34,650.50 L377.22,650.50 L378.09,650.50 L378.97,650.50 L379.85,650.50 L380.73,650.50 L381.60,650.50 L382.48,650.50 L383.36,650.50 L384.23,650.50 L385.11,650.50 L385.99,650.50 L386.86,650.50 L387.74,650.50 L388.62,650.50 L389.50,650.50 L390.37,650.50 L391.25,650.50" fill="none" stroke="#00ffff" stroke-width="2.45" stroke-linejoin="round" clip-path="url(#cC)"/>
<path d="M37.60,470.00 L38.00,461.30 L39.70,455.80 L41.90,453.63 L42.78,454.62 L43.65,455.62 L44.53,456.61 L45.40,457.61 L46.28,458.60 L47.15,459.59 L48.03,460.59 L48.90,461.57 L49.78,462.56 L50.66,463.55 L51.53,464.53 L52.41,465.52 L53.28,466.50 L54.16,467.48 L55.03,468.46 L55.91,469.44 L56.78,470.41 L57.66,471.38 L58.54,472.36 L59.41,473.32 L60.29,474.29 L61.16,475.26 L62.04,476.22 L62.91,477.18 L63.79,478.14 L64.66,479.09 L65.54,480.04 L66.42,480.99 L67.29,481.94 L68.17,482.88 L69.04,483.83 L69.92,484.76 L70.79,485.70 L71.67,486.63 L72.54,487.56 L73.42,488.49 L74.30,489.41 L75.17,490.33 L76.05,491.25 L76.92,492.16 L77.80,493.07 L78.67,493.98 L79.55,494.88 L80.42,495.78 L81.30,496.67 L82.18,497.56 L83.05,498.45 L83.93,499.33 L84.80,500.21 L85.68,501.09 L86.55,501.96 L87.43,502.82 L88.30,503.68 L89.18,504.54 L90.06,505.40 L90.93,506.24 L91.81,507.09 L92.68,507.93 L93.56,508.76 L94.43,509.59 L95.31,510.42 L96.18,511.24 L97.06,512.05 L97.94,512.86 L98.81,513.67 L99.69,514.47 L100.56,515.26 L101.44,516.05 L102.31,516.84 L103.19,517.62 L104.07,518.40 L104.94,519.17 L105.82,519.94 L106.69,520.70 L107.57,521.46 L108.44,522.21 L109.32,522.96 L110.19,523.70 L111.07,524.44 L111.95,525.18 L112.82,525.91 L113.70,526.64 L114.57,527.36 L115.45,528.08 L116.32,528.80 L117.20,529.51 L118.07,530.21 L118.95,530.92 L119.83,531.62 L120.70,532.31 L121.58,533.00 L122.45,533.69 L123.33,534.37 L124.20,535.05 L125.08,535.73 L125.95,536.40 L126.83,537.07 L127.71,537.74 L128.58,538.40 L129.46,539.06 L130.33,539.72 L131.21,540.37 L132.08,541.02 L132.96,541.66 L133.83,542.30 L134.71,542.94 L135.59,543.58 L136.46,544.21 L137.34,544.84 L138.21,545.47 L139.09,546.09 L139.96,546.71 L140.84,547.33 L141.71,547.94 L142.59,548.56 L143.47,549.17 L144.34,549.77 L145.22,550.38 L146.09,550.98 L146.97,551.58 L147.84,552.17 L148.72,552.77 L149.59,553.36 L150.47,553.95 L151.35,554.53 L152.22,555.12 L153.10,555.70 L153.97,556.28 L154.85,556.86 L155.72,557.43 L156.60,558.00 L157.47,558.57 L158.35,559.14 L159.23,559.71 L160.10,560.28 L160.98,560.84 L161.85,561.40 L162.73,561.96 L163.60,562.52 L164.48,563.07 L165.35,563.63 L166.23,564.18 L167.11,564.73 L167.98,565.28 L168.86,565.83 L169.73,566.37 L170.61,566.92 L171.48,567.46 L172.36,568.00 L173.23,568.54 L174.11,569.08 L174.99,569.61 L175.86,570.15 L176.74,570.68 L177.61,571.21 L178.49,571.74 L179.36,572.27 L180.24,572.79 L181.11,573.32 L181.99,573.84 L182.87,574.36 L183.74,574.88 L184.62,575.40 L185.49,575.91 L186.37,576.43 L187.24,576.94 L188.12,577.45 L188.99,577.96 L189.87,578.47 L190.75,578.98 L191.62,579.48 L192.50,579.98 L193.37,580.48 L194.25,580.98 L195.12,581.48 L196.00,581.98 L196.87,582.47 L197.75,582.96 L198.63,583.46 L199.50,583.94 L200.38,584.43 L201.25,584.92 L202.13,585.40 L203.00,585.89 L203.88,586.37 L204.75,586.85 L205.63,587.33 L206.51,587.80 L207.38,588.28 L208.26,588.75 L209.13,589.22 L210.01,589.69 L210.88,590.16 L211.76,590.63 L212.63,591.09 L213.51,591.55 L214.39,592.02 L215.26,592.48 L216.14,592.93 L217.01,593.39 L217.89,593.85 L218.76,594.30 L219.64,594.75 L220.52,595.20 L221.39,595.65 L222.27,596.10 L223.14,596.54 L224.02,596.99 L224.89,597.43 L225.77,597.87 L226.64,598.31 L227.52,598.75 L228.40,599.18 L229.27,599.62 L230.15,600.05 L231.02,600.48 L231.90,600.91 L232.77,601.34 L233.65,601.76 L234.52,602.19 L235.40,602.61 L236.28,603.03 L237.15,603.45 L238.03,603.87 L238.90,604.29 L239.78,604.70 L240.65,605.11 L241.53,605.53 L242.40,605.94 L243.28,606.35 L244.16,606.75 L245.03,607.16 L245.91,607.56 L246.78,607.96 L247.66,608.36 L248.53,608.76 L249.41,609.16 L250.28,609.56 L251.16,609.95 L252.04,610.34 L252.91,610.73 L253.79,611.12 L254.66,611.51 L255.54,611.90 L256.41,612.28 L257.29,612.66 L258.16,613.05 L259.04,613.43 L259.92,613.80 L260.79,614.18 L261.67,614.56 L262.54,614.93 L263.42,615.30 L264.29,615.67 L265.17,616.04 L266.04,616.41 L266.92,616.77 L267.80,617.14 L268.67,617.50 L269.55,617.86 L270.42,618.22 L271.30,618.58 L272.17,618.94 L273.05,619.29 L273.92,619.64 L274.80,620.00 L275.68,620.35 L276.55,620.69 L277.43,621.04 L278.30,621.39 L279.18,621.73 L280.05,622.07 L280.93,622.41 L281.80,622.75 L282.68,623.09 L283.56,623.43 L284.43,623.76 L285.31,624.09 L286.18,624.42 L287.06,624.75 L287.93,625.08 L288.81,625.41 L289.68,625.73 L290.56,626.06 L291.44,626.38 L292.31,626.70 L293.19,627.02 L294.06,627.34 L294.94,627.65 L295.81,627.97 L296.69,628.28 L297.56,628.59 L298.44,628.90 L299.32,629.21 L300.19,629.51 L301.07,629.82 L301.94,630.12 L302.82,630.43 L303.69,630.73 L304.57,631.02 L305.44,631.32 L306.32,631.62 L307.20,631.91 L308.07,632.20 L308.95,632.50 L309.82,632.79 L310.70,633.07 L311.57,633.36 L312.45,633.64 L313.32,633.93 L314.20,634.21 L315.08,634.49 L315.95,634.77 L316.83,635.04 L317.70,635.32 L318.58,635.59 L319.45,635.86 L320.33,636.13 L321.20,636.40 L322.08,636.67 L322.96,636.93 L323.83,637.20 L324.71,637.46 L325.58,637.71 L326.46,637.97 L327.33,638.23 L328.21,638.49 L329.08,638.75 L329.96,639.00 L330.84,639.26 L331.71,639.52 L332.59,639.77 L333.46,640.03 L334.34,640.27 L335.21,640.52 L336.09,640.76 L336.97,640.99 L337.84,641.22 L338.72,641.45 L339.59,641.67 L340.47,641.89 L341.34,642.11 L342.22,642.33 L343.09,642.54 L343.97,642.76 L344.85,642.97 L345.72,643.19 L346.60,643.41 L347.47,643.64 L348.35,643.86 L349.22,644.08 L350.10,644.31 L350.97,644.53 L351.85,644.75 L352.73,644.97 L353.60,645.18 L354.48,645.38 L355.35,645.58 L356.23,645.77 L357.10,645.95 L357.98,646.13 L358.85,646.30 L359.73,646.47 L360.61,646.64 L361.48,646.81 L362.36,646.98 L363.23,647.15 L364.11,647.32 L364.98,647.50 L365.86,647.68 L366.73,647.87 L367.61,648.07 L368.49,648.28 L369.36,648.48 L370.24,648.68 L371.11,648.87 L371.99,649.06 L372.86,649.23 L373.74,649.40 L374.61,649.54 L375.49,649.67 L376.37,649.80 L377.24,649.93 L378.12,650.06 L378.99,650.17 L379.87,650.27 L380.74,650.34 L381.62,650.39 L382.49,650.41 L383.37,650.43 L384.25,650.44 L385.12,650.45 L386.00,650.47 L386.87,650.48 L387.75,650.48 L388.62,650.49 L389.50,650.50 L390.37,650.50 L391.25,650.50" fill="none" stroke="#ff8c00" stroke-width="2.45" stroke-linejoin="round" clip-path="url(#cC)"/>
<line x1="434.10" y1="342.50" x2="434.10" y2="653.40" stroke="#ff8c00" stroke-opacity="0.6" stroke-width="1.8" clip-path="url(#cD)"/>
<path d="M434.40,422.50 L435.50,409.30 L436.80,403.20 L438.20,404.73 L439.07,408.40 L439.93,411.88 L440.80,415.17 L441.67,418.28 L442.53,421.20 L443.40,423.93 L444.27,426.46 L445.13,428.81 L446.00,430.98 L446.87,433.00 L447.73,434.88 L448.60,436.65 L449.47,438.32 L450.33,439.92 L451.20,441.47 L452.07,442.97 L452.93,444.46 L453.80,445.93 L454.67,447.38 L455.53,448.82 L456.40,450.24 L457.27,451.64 L458.13,453.02 L459.00,454.39 L459.87,455.75 L460.73,457.08 L461.60,458.40 L462.47,459.71 L463.33,461.00 L464.20,462.27 L465.07,463.53 L465.93,464.77 L466.80,465.99 L467.67,467.21 L468.53,468.40 L469.40,469.59 L470.27,470.75 L471.13,471.91 L472.00,473.04 L472.87,474.17 L473.73,475.28 L474.60,476.38 L475.47,477.46 L476.33,478.53 L477.20,479.58 L478.07,480.63 L478.93,481.66 L479.80,482.67 L480.67,483.68 L481.53,484.67 L482.40,485.65 L483.27,486.62 L484.13,487.58 L485.00,488.53 L485.87,489.47 L486.73,490.40 L487.60,491.32 L488.47,492.24 L489.33,493.14 L490.20,494.04 L491.07,494.93 L491.93,495.81 L492.80,496.69 L493.67,497.56 L494.53,498.42 L495.40,499.28 L496.27,500.14 L497.13,500.99 L498.00,501.83 L498.87,502.67 L499.73,503.51 L500.60,504.35 L501.47,505.18 L502.33,506.01 L503.20,506.84 L504.07,507.67 L504.93,508.50 L505.80,509.32 L506.67,510.15 L507.53,510.97 L508.40,511.80 L509.27,512.63 L510.13,513.45 L511.00,514.28 L511.87,515.11 L512.73,515.93 L513.60,516.76 L514.47,517.59 L515.33,518.41 L516.20,519.24 L517.07,520.06 L517.93,520.89 L518.80,521.71 L519.67,522.53 L520.53,523.36 L521.40,524.18 L522.27,525.00 L523.13,525.82 L524.00,526.64 L524.87,527.45 L525.73,528.27 L526.60,529.09 L527.47,529.90 L528.33,530.71 L529.20,531.52 L530.07,532.33 L530.93,533.14 L531.80,533.95 L532.67,534.76 L533.53,535.56 L534.40,536.36 L535.27,537.16 L536.13,537.96 L537.00,538.76 L537.87,539.55 L538.73,540.34 L539.60,541.13 L540.47,541.92 L541.33,542.71 L542.20,543.49 L543.07,544.28 L543.93,545.06 L544.80,545.83 L545.67,546.61 L546.53,547.38 L547.40,548.16 L548.27,548.93 L549.13,549.70 L550.00,550.46 L550.87,551.23 L551.73,551.99 L552.60,552.75 L553.47,553.51 L554.33,554.26 L555.20,555.02 L556.07,555.77 L556.93,556.52 L557.80,557.27 L558.67,558.02 L559.53,558.76 L560.40,559.50 L561.27,560.24 L562.13,560.98 L563.00,561.72 L563.87,562.45 L564.73,563.19 L565.60,563.92 L566.47,564.65 L567.33,565.37 L568.20,566.10 L569.07,566.82 L569.93,567.54 L570.80,568.26 L571.67,568.98 L572.53,569.70 L573.40,570.41 L574.27,571.12 L575.13,571.83 L576.00,572.54 L576.87,573.24 L577.73,573.95 L578.60,574.65 L579.47,575.35 L580.33,576.05 L581.20,576.74 L582.07,577.44 L582.93,578.13 L583.80,578.82 L584.67,579.51 L585.53,580.19 L586.40,580.88 L587.27,581.56 L588.13,582.24 L589.00,582.92 L589.87,583.60 L590.73,584.27 L591.60,584.95 L592.47,585.62 L593.33,586.29 L594.20,586.96 L595.07,587.62 L595.93,588.29 L596.80,588.95 L597.67,589.61 L598.53,590.27 L599.40,590.92 L600.27,591.58 L601.13,592.23 L602.00,592.88 L602.87,593.53 L603.73,594.18 L604.60,594.82 L605.47,595.47 L606.33,596.11 L607.20,596.75 L608.07,597.39 L608.93,598.02 L609.80,598.66 L610.67,599.29 L611.53,599.92 L612.40,600.55 L613.27,601.18 L614.13,601.80 L615.00,602.42 L615.87,603.04 L616.73,603.66 L617.60,604.28 L618.47,604.90 L619.33,605.51 L620.20,606.12 L621.07,606.73 L621.93,607.34 L622.80,607.95 L623.67,608.55 L624.53,609.16 L625.40,609.75 L626.27,610.35 L627.13,610.95 L628.00,611.54 L628.87,612.13 L629.73,612.71 L630.60,613.30 L631.47,613.88 L632.33,614.46 L633.20,615.03 L634.07,615.60 L634.93,616.17 L635.80,616.74 L636.67,617.30 L637.53,617.86 L638.40,618.42 L639.27,618.97 L640.13,619.52 L641.00,620.06 L641.87,620.60 L642.73,621.14 L643.60,621.67 L644.47,622.20 L645.33,622.73 L646.20,623.25 L647.07,623.77 L647.93,624.28 L648.80,624.79 L649.67,625.29 L650.53,625.79 L651.40,626.29 L652.27,626.78 L653.13,627.27 L654.00,627.75 L654.87,628.22 L655.73,628.69 L656.60,629.16 L657.47,629.62 L658.33,630.08 L659.20,630.53 L660.07,630.98 L660.93,631.42 L661.80,631.85 L662.67,632.28 L663.53,632.70 L664.40,633.12 L665.27,633.53 L666.13,633.94 L667.00,634.34 L667.87,634.74 L668.73,635.12 L669.60,635.51 L670.47,635.88 L671.33,636.25 L672.20,636.62 L673.07,636.97 L673.93,637.33 L674.80,637.67 L675.67,638.01 L676.53,638.34 L677.40,638.66 L678.27,638.98 L679.13,639.29 L680.00,639.59 L680.87,639.89 L681.73,640.18 L682.60,640.46 L683.47,640.74 L684.33,641.01 L685.20,641.27 L686.07,641.53 L686.93,641.78 L687.80,642.02 L688.67,642.26 L689.53,642.49 L690.40,642.72 L691.27,642.94 L692.13,643.15 L693.00,643.36 L693.87,643.56 L694.73,643.76 L695.60,643.95 L696.47,644.13 L697.33,644.31 L698.20,644.49 L699.07,644.66 L699.93,644.82 L700.80,644.98 L701.67,645.14 L702.53,645.28 L703.40,645.43 L704.27,645.57 L705.13,645.70 L706.00,645.83 L706.87,645.96 L707.73,646.08 L708.60,646.20 L709.47,646.31 L710.33,646.42 L711.20,646.53 L712.07,646.63 L712.93,646.72 L713.80,646.82 L714.67,646.91 L715.53,646.99 L716.40,647.08 L717.27,647.16 L718.13,647.23 L719.00,647.31 L719.87,647.37 L720.73,647.44 L721.60,647.50 L722.47,647.56 L723.33,647.61 L724.20,647.66 L725.07,647.70 L725.93,647.75 L726.80,647.79 L727.67,647.82 L728.53,647.86 L729.40,647.89 L730.27,647.92 L731.13,647.95 L732.00,647.98 L732.87,648.00 L733.73,648.02 L734.60,648.05 L735.47,648.07 L736.33,648.08 L737.20,648.10 L738.07,648.12 L738.93,648.13 L739.80,648.15 L740.67,648.16 L741.53,648.18 L742.40,648.19 L743.27,648.20 L744.13,648.22 L745.00,648.23 L745.87,648.24 L746.73,648.26 L747.60,648.27 L748.47,648.28 L749.33,648.29 L750.20,648.30 L751.07,648.31 L751.93,648.32 L752.80,648.33 L753.67,648.34 L754.53,648.35 L755.40,648.35 L756.27,648.36 L757.13,648.37 L758.00,648.38 L758.87,648.39 L759.73,648.40 L760.60,648.41 L761.47,648.42 L762.33,648.43 L763.20,648.45 L764.07,648.46 L764.93,648.48 L765.80,648.50 L766.67,648.52 L767.53,648.53 L768.40,648.55 L769.27,648.57 L770.13,648.59 L771.00,648.61 L771.87,648.63 L772.73,648.65 L773.60,648.68 L774.47,648.70 L775.33,648.72 L776.20,648.75 L777.07,648.77 L777.93,648.80 L778.80,648.83 L779.67,648.85 L780.53,648.88 L781.40,648.91 L782.27,648.94 L783.13,648.97 L784.00,649.00" fill="none" stroke="#00ffff" stroke-width="2.45" stroke-linejoin="round" clip-path="url(#cD)"/>
<path d="M434.90,445.00 L434.90,436.80 L436.60,430.20 L438.80,426.90 L442.10,427.04 L442.96,428.07 L443.81,429.09 L444.67,430.09 L445.53,431.09 L446.38,432.08 L447.24,433.06 L448.10,434.04 L448.96,435.00 L449.81,435.95 L450.67,436.90 L451.53,437.83 L452.38,438.76 L453.24,439.68 L454.10,440.59 L454.95,441.50 L455.81,442.39 L456.67,443.28 L457.52,444.16 L458.38,445.04 L459.24,445.90 L460.09,446.76 L460.95,447.61 L461.81,448.46 L462.67,449.30 L463.52,450.13 L464.38,450.95 L465.24,451.77 L466.09,452.58 L466.95,453.39 L467.81,454.19 L468.66,454.99 L469.52,455.78 L470.38,456.56 L471.23,457.34 L472.09,458.11 L472.95,458.88 L473.81,459.64 L474.66,460.40 L475.52,461.15 L476.38,461.90 L477.23,462.65 L478.09,463.39 L478.95,464.12 L479.80,464.86 L480.66,465.58 L481.52,466.31 L482.37,467.03 L483.23,467.75 L484.09,468.46 L484.94,469.17 L485.80,469.88 L486.66,470.59 L487.52,471.29 L488.37,471.99 L489.23,472.69 L490.09,473.38 L490.94,474.08 L491.80,474.77 L492.66,475.46 L493.51,476.14 L494.37,476.83 L495.23,477.51 L496.08,478.20 L496.94,478.88 L497.80,479.56 L498.65,480.24 L499.51,480.92 L500.37,481.59 L501.23,482.27 L502.08,482.95 L502.94,483.62 L503.80,484.30 L504.65,484.97 L505.51,485.65 L506.37,486.32 L507.22,486.99 L508.08,487.66 L508.94,488.34 L509.79,489.01 L510.65,489.68 L511.51,490.34 L512.37,491.01 L513.22,491.68 L514.08,492.35 L514.94,493.01 L515.79,493.68 L516.65,494.35 L517.51,495.01 L518.36,495.67 L519.22,496.34 L520.08,497.00 L520.93,497.66 L521.79,498.32 L522.65,498.98 L523.50,499.64 L524.36,500.30 L525.22,500.96 L526.08,501.62 L526.93,502.28 L527.79,502.93 L528.65,503.59 L529.50,504.25 L530.36,504.90 L531.22,505.55 L532.07,506.21 L532.93,506.86 L533.79,507.51 L534.64,508.17 L535.50,508.82 L536.36,509.47 L537.22,510.12 L538.07,510.77 L538.93,511.42 L539.79,512.07 L540.64,512.72 L541.50,513.36 L542.36,514.01 L543.21,514.66 L544.07,515.30 L544.93,515.95 L545.78,516.59 L546.64,517.24 L547.50,517.88 L548.35,518.52 L549.21,519.17 L550.07,519.81 L550.93,520.45 L551.78,521.09 L552.64,521.73 L553.50,522.37 L554.35,523.01 L555.21,523.65 L556.07,524.29 L556.92,524.93 L557.78,525.56 L558.64,526.20 L559.49,526.84 L560.35,527.47 L561.21,528.11 L562.06,528.74 L562.92,529.38 L563.78,530.01 L564.64,530.64 L565.49,531.28 L566.35,531.91 L567.21,532.54 L568.06,533.17 L568.92,533.80 L569.78,534.43 L570.63,535.06 L571.49,535.69 L572.35,536.32 L573.20,536.95 L574.06,537.58 L574.92,538.21 L575.78,538.83 L576.63,539.46 L577.49,540.08 L578.35,540.71 L579.20,541.33 L580.06,541.96 L580.92,542.58 L581.77,543.20 L582.63,543.83 L583.49,544.45 L584.34,545.07 L585.20,545.69 L586.06,546.31 L586.91,546.93 L587.77,547.54 L588.63,548.16 L589.49,548.78 L590.34,549.39 L591.20,550.01 L592.06,550.62 L592.91,551.24 L593.77,551.85 L594.63,552.46 L595.48,553.07 L596.34,553.68 L597.20,554.29 L598.05,554.90 L598.91,555.51 L599.77,556.12 L600.63,556.73 L601.48,557.33 L602.34,557.94 L603.20,558.54 L604.05,559.15 L604.91,559.75 L605.77,560.35 L606.62,560.95 L607.48,561.55 L608.34,562.15 L609.19,562.75 L610.05,563.35 L610.91,563.94 L611.76,564.54 L612.62,565.14 L613.48,565.73 L614.34,566.32 L615.19,566.91 L616.05,567.51 L616.91,568.10 L617.76,568.69 L618.62,569.27 L619.48,569.86 L620.33,570.45 L621.19,571.03 L622.05,571.62 L622.90,572.20 L623.76,572.78 L624.62,573.37 L625.47,573.95 L626.33,574.52 L627.19,575.10 L628.05,575.68 L628.90,576.26 L629.76,576.83 L630.62,577.41 L631.47,577.98 L632.33,578.55 L633.19,579.12 L634.04,579.69 L634.90,580.26 L635.76,580.83 L636.61,581.39 L637.47,581.96 L638.33,582.52 L639.19,583.09 L640.04,583.65 L640.90,584.21 L641.76,584.77 L642.61,585.33 L643.47,585.88 L644.33,586.44 L645.18,586.99 L646.04,587.55 L646.90,588.10 L647.75,588.65 L648.61,589.20 L649.47,589.75 L650.32,590.30 L651.18,590.84 L652.04,591.39 L652.90,591.93 L653.75,592.47 L654.61,593.01 L655.47,593.55 L656.32,594.09 L657.18,594.63 L658.04,595.16 L658.89,595.70 L659.75,596.23 L660.61,596.76 L661.46,597.29 L662.32,597.82 L663.18,598.35 L664.04,598.87 L664.89,599.40 L665.75,599.92 L666.61,600.44 L667.46,600.96 L668.32,601.48 L669.18,602.00 L670.03,602.52 L670.89,603.03 L671.75,603.55 L672.60,604.06 L673.46,604.57 L674.32,605.08 L675.17,605.58 L676.03,606.09 L676.89,606.59 L677.75,607.10 L678.60,607.60 L679.46,608.10 L680.32,608.60 L681.17,609.09 L682.03,609.59 L682.89,610.08 L683.74,610.57 L684.60,611.06 L685.46,611.55 L686.31,612.04 L687.17,612.53 L688.03,613.01 L688.88,613.49 L689.74,613.97 L690.60,614.45 L691.46,614.93 L692.31,615.41 L693.17,615.88 L694.03,616.35 L694.88,616.83 L695.74,617.29 L696.60,617.76 L697.45,618.23 L698.31,618.69 L699.17,619.15 L700.02,619.61 L700.88,620.07 L701.74,620.53 L702.60,620.98 L703.45,621.43 L704.31,621.88 L705.17,622.32 L706.02,622.77 L706.88,623.21 L707.74,623.64 L708.59,624.08 L709.45,624.51 L710.31,624.94 L711.16,625.37 L712.02,625.79 L712.88,626.21 L713.73,626.63 L714.59,627.04 L715.45,627.45 L716.31,627.87 L717.16,628.28 L718.02,628.69 L718.88,629.09 L719.73,629.49 L720.59,629.89 L721.45,630.28 L722.30,630.66 L723.16,631.04 L724.02,631.42 L724.87,631.79 L725.73,632.15 L726.59,632.50 L727.45,632.85 L728.30,633.19 L729.16,633.53 L730.02,633.86 L730.87,634.19 L731.73,634.51 L732.59,634.83 L733.44,635.14 L734.30,635.45 L735.16,635.75 L736.01,636.06 L736.87,636.36 L737.73,636.67 L738.58,636.97 L739.44,637.27 L740.30,637.57 L741.16,637.87 L742.01,638.16 L742.87,638.46 L743.73,638.76 L744.58,639.05 L745.44,639.35 L746.30,639.65 L747.15,639.95 L748.01,640.24 L748.87,640.54 L749.72,640.83 L750.58,641.13 L751.44,641.43 L752.29,641.73 L753.15,642.03 L754.01,642.33 L754.87,642.63 L755.72,642.94 L756.58,643.24 L757.44,643.55 L758.29,643.86 L759.15,644.18 L760.01,644.50 L760.86,644.84 L761.72,645.19 L762.58,645.54 L763.43,645.91 L764.29,646.27 L765.15,646.62 L766.01,646.96 L766.86,647.28 L767.72,647.58 L768.58,647.89 L769.43,648.18 L770.29,648.38 L771.15,648.46 L772.00,648.53 L772.86,648.60 L773.72,648.66 L774.57,648.71 L775.43,648.76 L776.29,648.81 L777.14,648.85 L778.00,648.89 L778.86,648.92 L779.72,648.94 L780.57,648.96 L781.43,648.98 L782.29,648.99 L783.14,649.00 L784.00,649.00" fill="none" stroke="#ff8c00" stroke-width="2.45" stroke-linejoin="round" clip-path="url(#cD)"/>
<circle cx="469.4" cy="152.3" r="3.4" fill="#008000"/>
<circle cx="597.9" cy="589.4" r="3.3" fill="#008000"/>
<rect x="82.30" y="3.08" width="274.90" height="268.17" fill="none" stroke="#000" stroke-opacity="0.5" stroke-width="1.8"/>
<line x1="82.30" y1="271.25" x2="82.30" y2="274.65" stroke="#000" stroke-opacity="0.7" stroke-width="1.0"/>
<line x1="82.30" y1="271.25" x2="78.90" y2="271.25" stroke="#000" stroke-opacity="0.7" stroke-width="1.0"/>
<text x="75.18" y="286.90" font-size="10.9" stroke="#262626" stroke-width="0.3" textLength="14.24" lengthAdjust="spacingAndGlyphs" fill="#262626">0.0</text>
<text x="59.96" y="275.40" font-size="10.9" stroke="#262626" stroke-width="0.3" textLength="14.24" lengthAdjust="spacingAndGlyphs" fill="#262626">0.0</text>
<line x1="137.28" y1="271.25" x2="137.28" y2="274.65" stroke="#000" stroke-opacity="0.7" stroke-width="1.0"/>
<line x1="82.30" y1="220.17" x2="78.90" y2="220.17" stroke="#000" stroke-opacity="0.7" stroke-width="1.0"/>
<text x="130.22" y="286.90" font-size="10.9" stroke="#262626" stroke-width="0.3" textLength="14.24" lengthAdjust="spacingAndGlyphs" fill="#262626">0.2</text>
<text x="60.07" y="224.32" font-size="10.9" stroke="#262626" stroke-width="0.3" textLength="14.24" lengthAdjust="spacingAndGlyphs" fill="#262626">0.2</text>
<line x1="192.26" y1="271.25" x2="192.26" y2="274.65" stroke="#000" stroke-opacity="0.7" stroke-width="1.0"/>
<line x1="82.30" y1="169.09" x2="78.90" y2="169.09" stroke="#000" stroke-opacity="0.7" stroke-width="1.0"/>
<text x="185.09" y="286.90" font-size="10.9" stroke="#262626" stroke-width="0.3" textLength="14.24" lengthAdjust="spacingAndGlyphs" fill="#262626">0.4</text>
<text x="59.86" y="173.24" font-size="10.9" stroke="#262626" stroke-width="0.3" textLength="14.24" lengthAdjust="spacingAndGlyphs" fill="#262626">0.4</text>
<line x1="247.24" y1="271.25" x2="247.24" y2="274.65" stroke="#000" stroke-opacity="0.7" stroke-width="1.0"/>
<line x1="82.30" y1="118.01" x2="78.90" y2="118.01" stroke="#000" stroke-opacity="0.7" stroke-width="1.0"/>
<text x="240.14" y="286.90" font-size="10.9" stroke="#262626" stroke-width="0.3" textLength="14.24" lengthAdjust="spacingAndGlyphs" fill="#262626">0.6</text>
<text x="60.01" y="122.16" font-size="10.9" stroke="#262626" stroke-width="0.3" textLength="14.24" lengthAdjust="spacingAndGlyphs" fill="#262626">0.6</text>
<line x1="302.22" y1="271.25" x2="302.22" y2="274.65" stroke="#000" stroke-opacity="0.7" stroke-width="1.0"/>
<line x1="82.30" y1="66.93" x2="78.90" y2="66.93" stroke="#000" stroke-opacity="0.7" stroke-width="1.0"/>
<text x="295.12" y="286.90" font-size="10.9" stroke="#262626" stroke-width="0.3" textLength="14.24" lengthAdjust="spacingAndGlyphs" fill="#262626">0.8</text>
<text x="60.00" y="71.08" font-size="10.9" stroke="#262626" stroke-width="0.3" textLength="14.24" lengthAdjust="spacingAndGlyphs" fill="#262626">0.8</text>
<line x1="357.20" y1="271.25" x2="357.20" y2="274.65" stroke="#000" stroke-opacity="0.7" stroke-width="1.0"/>
<line x1="82.30" y1="15.85" x2="78.90" y2="15.85" stroke="#000" stroke-opacity="0.7" stroke-width="1.0"/>
<text x="349.89" y="286.90" font-size="10.9" stroke="#262626" stroke-width="0.3" textLength="14.24" lengthAdjust="spacingAndGlyphs" fill="#262626">1.0</text>
<text x="59.96" y="20.00" font-size="10.9" stroke="#262626" stroke-width="0.3" textLength="14.24" lengthAdjust="spacingAndGlyphs" fill="#262626">1.0</text>
<rect x="461.50" y="4.50" width="275.10" height="268.80" fill="none" stroke="#000" stroke-opacity="0.5" stroke-width="1.8"/>
<line x1="461.50" y1="273.30" x2="461.50" y2="276.70" stroke="#000" stroke-opacity="0.7" stroke-width="1.0"/>
<line x1="461.50" y1="273.30" x2="458.10" y2="273.30" stroke="#000" stroke-opacity="0.7" stroke-width="1.0"/>
<text x="454.38" y="288.90" font-size="10.9" stroke="#262626" stroke-width="0.3" textLength="14.24" lengthAdjust="spacingAndGlyphs" fill="#262626">0.0</text>
<text x="439.06" y="277.45" font-size="10.9" stroke="#262626" stroke-width="0.3" textLength="14.24" lengthAdjust="spacingAndGlyphs" fill="#262626">0.0</text>
<line x1="516.52" y1="273.30" x2="516.52" y2="276.70" stroke="#000" stroke-opacity="0.7" stroke-width="1.0"/>
<line x1="461.50" y1="222.10" x2="458.10" y2="222.10" stroke="#000" stroke-opacity="0.7" stroke-width="1.0"/>
<text x="509.46" y="288.90" font-size="10.9" stroke="#262626" stroke-width="0.3" textLength="14.24" lengthAdjust="spacingAndGlyphs" fill="#262626">0.2</text>
<text x="439.17" y="226.25" font-size="10.9" stroke="#262626" stroke-width="0.3" textLength="14.24" lengthAdjust="spacingAndGlyphs" fill="#262626">0.2</text>
<line x1="571.54" y1="273.30" x2="571.54" y2="276.70" stroke="#000" stroke-opacity="0.7" stroke-width="1.0"/>
<line x1="461.50" y1="170.90" x2="458.10" y2="170.90" stroke="#000" stroke-opacity="0.7" stroke-width="1.0"/>
<text x="564.37" y="288.90" font-size="10.9" stroke="#262626" stroke-width="0.3" textLength="14.24" lengthAdjust="spacingAndGlyphs" fill="#262626">0.4</text>
<text x="438.96" y="175.05" font-size="10.9" stroke="#262626" stroke-width="0.3" textLength="14.24" lengthAdjust="spacingAndGlyphs" fill="#262626">0.4</text>
<line x1="626.56" y1="273.30" x2="626.56" y2="276.70" stroke="#000" stroke-opacity="0.7" stroke-width="1.0"/>
<line x1="461.50" y1="119.70" x2="458.10" y2="119.70" stroke="#000" stroke-opacity="0.7" stroke-width="1.0"/>
<text x="619.46" y="288.90" font-size="10.9" stroke="#262626" stroke-width="0.3" textLength="14.24" lengthAdjust="spacingAndGlyphs" fill="#262626">0.6</text>
<text x="439.11" y="123.85" font-size="10.9" stroke="#262626" stroke-width="0.3" textLength="14.24" lengthAdjust="spacingAndGlyphs" fill="#262626">0.6</text>
<line x1="681.58" y1="273.30" x2="681.58" y2="276.70" stroke="#000" stroke-opacity="0.7" stroke-width="1.0"/>
<line x1="461.50" y1="68.50" x2="458.10" y2="68.50" stroke="#000" stroke-opacity="0.7" stroke-width="1.0"/>
<text x="674.48" y="288.90" font-size="10.9" stroke="#262626" stroke-width="0.3" textLength="14.24" lengthAdjust="spacingAndGlyphs" fill="#262626">0.8</text>
<text x="439.10" y="72.65" font-size="10.9" stroke="#262626" stroke-width="0.3" textLength="14.24" lengthAdjust="spacingAndGlyphs" fill="#262626">0.8</text>
<line x1="736.60" y1="273.30" x2="736.60" y2="276.70" stroke="#000" stroke-opacity="0.7" stroke-width="1.0"/>
<line x1="461.50" y1="17.30" x2="458.10" y2="17.30" stroke="#000" stroke-opacity="0.7" stroke-width="1.0"/>
<text x="729.29" y="288.90" font-size="10.9" stroke="#262626" stroke-width="0.3" textLength="14.24" lengthAdjust="spacingAndGlyphs" fill="#262626">1.0</text>
<text x="439.06" y="21.45" font-size="10.9" stroke="#262626" stroke-width="0.3" textLength="14.24" lengthAdjust="spacingAndGlyphs" fill="#262626">1.0</text>
<rect x="36.75" y="324.43" width="354.50" height="329.18" fill="none" stroke="#000" stroke-opacity="0.5" stroke-width="1.8"/>
<line x1="36.75" y1="653.60" x2="36.75" y2="657.00" stroke="#000" stroke-opacity="0.7" stroke-width="1.0"/>
<line x1="36.75" y1="653.60" x2="33.35" y2="653.60" stroke="#000" stroke-opacity="0.7" stroke-width="1.0"/>
<text x="30.09" y="667.80" font-size="10.2" stroke="#262626" stroke-width="0.3" textLength="13.33" lengthAdjust="spacingAndGlyphs" fill="#262626">0.0</text>
<text x="16.35" y="657.25" font-size="10.2" stroke="#262626" stroke-width="0.3" textLength="13.33" lengthAdjust="spacingAndGlyphs" fill="#262626">0.0</text>
<line x1="107.65" y1="653.60" x2="107.65" y2="657.00" stroke="#000" stroke-opacity="0.7" stroke-width="1.0"/>
<line x1="36.75" y1="590.90" x2="33.35" y2="590.90" stroke="#000" stroke-opacity="0.7" stroke-width="1.0"/>
<text x="101.04" y="667.80" font-size="10.2" stroke="#262626" stroke-width="0.3" textLength="13.33" lengthAdjust="spacingAndGlyphs" fill="#262626">0.2</text>
<text x="16.45" y="594.55" font-size="10.2" stroke="#262626" stroke-width="0.3" textLength="13.33" lengthAdjust="spacingAndGlyphs" fill="#262626">0.2</text>
<line x1="178.55" y1="653.60" x2="178.55" y2="657.00" stroke="#000" stroke-opacity="0.7" stroke-width="1.0"/>
<line x1="36.75" y1="528.20" x2="33.35" y2="528.20" stroke="#000" stroke-opacity="0.7" stroke-width="1.0"/>
<text x="171.84" y="667.80" font-size="10.2" stroke="#262626" stroke-width="0.3" textLength="13.33" lengthAdjust="spacingAndGlyphs" fill="#262626">0.4</text>
<text x="16.25" y="531.85" font-size="10.2" stroke="#262626" stroke-width="0.3" textLength="13.33" lengthAdjust="spacingAndGlyphs" fill="#262626">0.4</text>
<line x1="249.45" y1="653.60" x2="249.45" y2="657.00" stroke="#000" stroke-opacity="0.7" stroke-width="1.0"/>
<line x1="36.75" y1="465.50" x2="33.35" y2="465.50" stroke="#000" stroke-opacity="0.7" stroke-width="1.0"/>
<text x="242.81" y="667.80" font-size="10.2" stroke="#262626" stroke-width="0.3" textLength="13.33" lengthAdjust="spacingAndGlyphs" fill="#262626">0.6</text>
<text x="16.39" y="469.15" font-size="10.2" stroke="#262626" stroke-width="0.3" textLength="13.33" lengthAdjust="spacingAndGlyphs" fill="#262626">0.6</text>
<line x1="320.35" y1="653.60" x2="320.35" y2="657.00" stroke="#000" stroke-opacity="0.7" stroke-width="1.0"/>
<line x1="36.75" y1="402.80" x2="33.35" y2="402.80" stroke="#000" stroke-opacity="0.7" stroke-width="1.0"/>
<text x="313.71" y="667.80" font-size="10.2" stroke="#262626" stroke-width="0.3" textLength="13.33" lengthAdjust="spacingAndGlyphs" fill="#262626">0.8</text>
<text x="16.38" y="406.45" font-size="10.2" stroke="#262626" stroke-width="0.3" textLength="13.33" lengthAdjust="spacingAndGlyphs" fill="#262626">0.8</text>
<line x1="391.25" y1="653.60" x2="391.25" y2="657.00" stroke="#000" stroke-opacity="0.7" stroke-width="1.0"/>
<line x1="36.75" y1="340.10" x2="33.35" y2="340.10" stroke="#000" stroke-opacity="0.7" stroke-width="1.0"/>
<text x="384.41" y="667.80" font-size="10.2" stroke="#262626" stroke-width="0.3" textLength="13.33" lengthAdjust="spacingAndGlyphs" fill="#262626">1.0</text>
<text x="16.35" y="343.75" font-size="10.2" stroke="#262626" stroke-width="0.3" textLength="13.33" lengthAdjust="spacingAndGlyphs" fill="#262626">1.0</text>
<rect x="434.00" y="326.95" width="350.00" height="326.44" fill="none" stroke="#000" stroke-opacity="0.5" stroke-width="1.8"/>
<line x1="434.00" y1="653.40" x2="434.00" y2="656.80" stroke="#000" stroke-opacity="0.7" stroke-width="1.0"/>
<line x1="434.00" y1="653.40" x2="430.60" y2="653.40" stroke="#000" stroke-opacity="0.7" stroke-width="1.0"/>
<text x="427.34" y="667.60" font-size="10.2" stroke="#262626" stroke-width="0.3" textLength="13.33" lengthAdjust="spacingAndGlyphs" fill="#262626">0.0</text>
<text x="413.95" y="657.05" font-size="10.2" stroke="#262626" stroke-width="0.3" textLength="13.33" lengthAdjust="spacingAndGlyphs" fill="#262626">0.0</text>
<line x1="504.00" y1="653.40" x2="504.00" y2="656.80" stroke="#000" stroke-opacity="0.7" stroke-width="1.0"/>
<line x1="434.00" y1="591.22" x2="430.60" y2="591.22" stroke="#000" stroke-opacity="0.7" stroke-width="1.0"/>
<text x="497.39" y="667.60" font-size="10.2" stroke="#262626" stroke-width="0.3" textLength="13.33" lengthAdjust="spacingAndGlyphs" fill="#262626">0.2</text>
<text x="414.05" y="594.87" font-size="10.2" stroke="#262626" stroke-width="0.3" textLength="13.33" lengthAdjust="spacingAndGlyphs" fill="#262626">0.2</text>
<line x1="574.00" y1="653.40" x2="574.00" y2="656.80" stroke="#000" stroke-opacity="0.7" stroke-width="1.0"/>
<line x1="434.00" y1="529.04" x2="430.60" y2="529.04" stroke="#000" stroke-opacity="0.7" stroke-width="1.0"/>
<text x="567.29" y="667.60" font-size="10.2" stroke="#262626" stroke-width="0.3" textLength="13.33" lengthAdjust="spacingAndGlyphs" fill="#262626">0.4</text>
<text x="413.85" y="532.69" font-size="10.2" stroke="#262626" stroke-width="0.3" textLength="13.33" lengthAdjust="spacingAndGlyphs" fill="#262626">0.4</text>
<line x1="644.00" y1="653.40" x2="644.00" y2="656.80" stroke="#000" stroke-opacity="0.7" stroke-width="1.0"/>
<line x1="434.00" y1="466.86" x2="430.60" y2="466.86" stroke="#000" stroke-opacity="0.7" stroke-width="1.0"/>
<text x="637.36" y="667.60" font-size="10.2" stroke="#262626" stroke-width="0.3" textLength="13.33" lengthAdjust="spacingAndGlyphs" fill="#262626">0.6</text>
<text x="413.99" y="470.51" font-size="10.2" stroke="#262626" stroke-width="0.3" textLength="13.33" lengthAdjust="spacingAndGlyphs" fill="#262626">0.6</text>
<line x1="714.00" y1="653.40" x2="714.00" y2="656.80" stroke="#000" stroke-opacity="0.7" stroke-width="1.0"/>
<line x1="434.00" y1="404.68" x2="430.60" y2="404.68" stroke="#000" stroke-opacity="0.7" stroke-width="1.0"/>
<text x="707.36" y="667.60" font-size="10.2" stroke="#262626" stroke-width="0.3" textLength="13.33" lengthAdjust="spacingAndGlyphs" fill="#262626">0.8</text>
<text x="413.98" y="408.33" font-size="10.2" stroke="#262626" stroke-width="0.3" textLength="13.33" lengthAdjust="spacingAndGlyphs" fill="#262626">0.8</text>
<line x1="784.00" y1="653.40" x2="784.00" y2="656.80" stroke="#000" stroke-opacity="0.7" stroke-width="1.0"/>
<line x1="434.00" y1="342.50" x2="430.60" y2="342.50" stroke="#000" stroke-opacity="0.7" stroke-width="1.0"/>
<text x="777.16" y="667.60" font-size="10.2" stroke="#262626" stroke-width="0.3" textLength="13.33" lengthAdjust="spacingAndGlyphs" fill="#262626">1.0</text>
<text x="413.95" y="346.15" font-size="10.2" stroke="#262626" stroke-width="0.3" textLength="13.33" lengthAdjust="spacingAndGlyphs" fill="#262626">1.0</text>
<text x="355.85" y="612.15" font-size="9.9" stroke="#262626" stroke-width="0.3" textLength="29.88" lengthAdjust="spacingAndGlyphs" fill="#262626">f1=0.2</text>
<text x="355.85" y="567.19" font-size="9.9" stroke="#262626" stroke-width="0.3" textLength="29.66" lengthAdjust="spacingAndGlyphs" fill="#262626">f1=0.4</text>
<text x="355.85" y="507.71" font-size="9.9" stroke="#262626" stroke-width="0.3" textLength="29.82" lengthAdjust="spacingAndGlyphs" fill="#262626">f1=0.6</text>
<text x="355.85" y="425.32" font-size="9.9" stroke="#262626" stroke-width="0.3" textLength="29.81" lengthAdjust="spacingAndGlyphs" fill="#262626">f1=0.8</text>
<text x="749.05" y="612.30" font-size="9.9" stroke="#262626" stroke-width="0.3" textLength="29.88" lengthAdjust="spacingAndGlyphs" fill="#262626">f1=0.2</text>
<text x="749.05" y="567.71" font-size="9.9" stroke="#262626" stroke-width="0.3" textLength="29.66" lengthAdjust="spacingAndGlyphs" fill="#262626">f1=0.4</text>
<text x="749.05" y="508.72" font-size="9.9" stroke="#262626" stroke-width="0.3" textLength="29.82" lengthAdjust="spacingAndGlyphs" fill="#262626">f1=0.6</text>
<text x="749.05" y="427.01" font-size="9.9" stroke="#262626" stroke-width="0.3" textLength="29.81" lengthAdjust="spacingAndGlyphs" fill="#262626">f1=0.8</text>
<text x="172.61" y="300.60" font-size="10.2" stroke="#262626" stroke-width="0.3" textLength="93.77" lengthAdjust="spacingAndGlyphs" fill="#262626">False Positive Rate</text>
<text x="551.91" y="302.60" font-size="10.2" stroke="#262626" stroke-width="0.3" textLength="93.77" lengthAdjust="spacingAndGlyphs" fill="#262626">False Positive Rate</text>
<text x="0" y="0" font-size="10.2" stroke="#262626" stroke-width="0.3" textLength="88.72" lengthAdjust="spacingAndGlyphs" fill="#262626" transform="translate(52.80,181.84) rotate(-90)">True Positive Rate</text>
<text x="0" y="0" font-size="10.2" stroke="#262626" stroke-width="0.3" textLength="88.72" lengthAdjust="spacingAndGlyphs" fill="#262626" transform="translate(431.60,183.04) rotate(-90)">True Positive Rate</text>
<text x="199.61" y="680.60" font-size="10.2" stroke="#262626" stroke-width="0.3" textLength="28.63" lengthAdjust="spacingAndGlyphs" fill="#262626">Recall</text>
<text x="594.61" y="680.60" font-size="10.2" stroke="#262626" stroke-width="0.3" textLength="28.63" lengthAdjust="spacingAndGlyphs" fill="#262626">Recall</text>
<text x="0" y="0" font-size="10.2" stroke="#262626" stroke-width="0.3" textLength="42.10" lengthAdjust="spacingAndGlyphs" fill="#262626" transform="translate(10.60,512.44) rotate(-90)">Precision</text>
<text x="0" y="0" font-size="10.2" stroke="#262626" stroke-width="0.3" textLength="41.48" lengthAdjust="spacingAndGlyphs" fill="#262626" transform="translate(408.00,512.93) rotate(-90)">Precision</text>
<rect x="111.30" y="233.30" width="240.80" height="32.60" rx="2.2" ry="2.2" fill="#fff" fill-opacity="0.8" stroke="#cacaca" stroke-width="1"/>
<line x1="113.10" y1="240.90" x2="134.70" y2="240.90" stroke="#00ffff" stroke-width="1.9"/>
<line x1="113.10" y1="256.00" x2="134.70" y2="256.00" stroke="#ff8c00" stroke-width="1.9"/>
<text x="141.39" y="244.70" font-size="10.2" stroke="#262626" stroke-width="0.3" textLength="199.19" lengthAdjust="spacingAndGlyphs" fill="#262626">Logistic (AUROC = 0.805 [0.802, 0.808])</text>
<text x="141.74" y="260.40" font-size="10.2" stroke="#262626" stroke-width="0.3" textLength="205.85" lengthAdjust="spacingAndGlyphs" fill="#262626">ClinicNet (AUROC = 0.902 [0.901, 0.904])</text>
<rect x="490.45" y="220.60" width="240.75" height="47.70" rx="2.2" ry="2.2" fill="#fff" fill-opacity="0.8" stroke="#cacaca" stroke-width="1"/>
<line x1="492.40" y1="228.30" x2="514.20" y2="228.30" stroke="#00ffff" stroke-width="1.9"/>
<line x1="492.40" y1="243.10" x2="514.20" y2="243.10" stroke="#ff8c00" stroke-width="1.9"/>
<circle cx="504" cy="258.4" r="3.5" fill="#008000"/>
<text x="520.79" y="232.90" font-size="10.2" stroke="#262626" stroke-width="0.3" textLength="199.90" lengthAdjust="spacingAndGlyphs" fill="#262626">Logistic (AUROC = 0.815 [0.812, 0.817])</text>
<text x="521.14" y="247.70" font-size="10.2" stroke="#262626" stroke-width="0.3" textLength="205.75" lengthAdjust="spacingAndGlyphs" fill="#262626">ClinicNet (AUROC = 0.908 [0.906, 0.909])</text>
<text x="520.65" y="262.60" font-size="10.2" stroke="#262626" stroke-width="0.3" textLength="111.76" lengthAdjust="spacingAndGlyphs" fill="#262626">Institutional order sets</text>
<rect x="128.75" y="337.70" width="254.35" height="42.80" rx="2.2" ry="2.2" fill="#fff" fill-opacity="0.8" stroke="#cacaca" stroke-width="1"/>
<line x1="131.50" y1="343.75" x2="151.25" y2="343.75" stroke="#e4e4e4" stroke-width="1.3"/>
<line x1="131.50" y1="357.50" x2="151.25" y2="357.50" stroke="#00ffff" stroke-width="1.8"/>
<line x1="131.50" y1="371.25" x2="151.25" y2="371.25" stroke="#ff8c00" stroke-width="1.8"/>
<text x="157.41" y="347.50" font-size="9.8" stroke="#262626" stroke-width="0.3" textLength="58.57" lengthAdjust="spacingAndGlyphs" fill="#262626">iso-f1 curves</text>
<text x="157.24" y="361.20" font-size="9.8" stroke="#262626" stroke-width="0.3" textLength="216.11" lengthAdjust="spacingAndGlyphs" fill="#262626">Logistic (Avg. precision = 0.176 [0.170, 0.181])</text>
<text x="157.57" y="374.80" font-size="9.8" stroke="#262626" stroke-width="0.3" textLength="221.48" lengthAdjust="spacingAndGlyphs" fill="#262626">ClinicNet (Avg. precision = 0.240 [0.235, 0.245])</text>
<rect x="538.50" y="362.60" width="257.75" height="55.90" rx="2.2" ry="2.2" fill="#fff" fill-opacity="0.8" stroke="#cacaca" stroke-width="1"/>
<line x1="541.25" y1="369.00" x2="560.00" y2="369.00" stroke="#e4e4e4" stroke-width="1.3"/>
<line x1="541.25" y1="382.75" x2="560.00" y2="382.75" stroke="#00ffff" stroke-width="1.8"/>
<line x1="541.25" y1="396.00" x2="560.00" y2="396.00" stroke="#ff8c00" stroke-width="1.8"/>
<circle cx="551.25" cy="410" r="3.3" fill="#008000"/>
<text x="566.82" y="372.80" font-size="9.8" stroke="#262626" stroke-width="0.3" textLength="57.55" lengthAdjust="spacingAndGlyphs" fill="#262626">iso-f1 curves</text>
<text x="566.65" y="386.30" font-size="9.8" stroke="#262626" stroke-width="0.3" textLength="213.39" lengthAdjust="spacingAndGlyphs" fill="#262626">Logistic (Avg. precision = 0.243 [0.237, 0.249])</text>
<text x="566.98" y="399.50" font-size="9.8" stroke="#262626" stroke-width="0.3" textLength="218.66" lengthAdjust="spacingAndGlyphs" fill="#262626">ClinicNet (Avg. precision = 0.314 [0.309, 0.318])</text>
<text x="566.54" y="413.10" font-size="9.8" stroke="#262626" stroke-width="0.3" textLength="226.01" lengthAdjust="spacingAndGlyphs" fill="#262626">Institutional order sets (f1 = 0.226 [0.223, 0.228])</text>
<text x="2.18" y="16.35" font-size="17.2" fill="#000">(<tspan font-weight="bold" font-size="16.8" dy="-0.40">a</tspan><tspan dy="0.40">)</tspan></text>
<text x="401.68" y="16.70" font-size="17.2" fill="#000">(<tspan font-weight="bold" font-size="15.6" dy="-0.60">b</tspan><tspan dy="0.60">)</tspan></text>
<text x="2.43" y="321.40" font-size="17.2" fill="#000">(<tspan font-weight="bold" font-size="16.9" dy="0.20">c</tspan><tspan dy="-0.20">)</tspan></text>
<text x="401.73" y="321.50" font-size="17.2" fill="#000">(<tspan font-weight="bold" font-size="15.4" dy="-0.05">d</tspan><tspan dy="0.05">)</tspan></text></g></svg>
</body></html>
